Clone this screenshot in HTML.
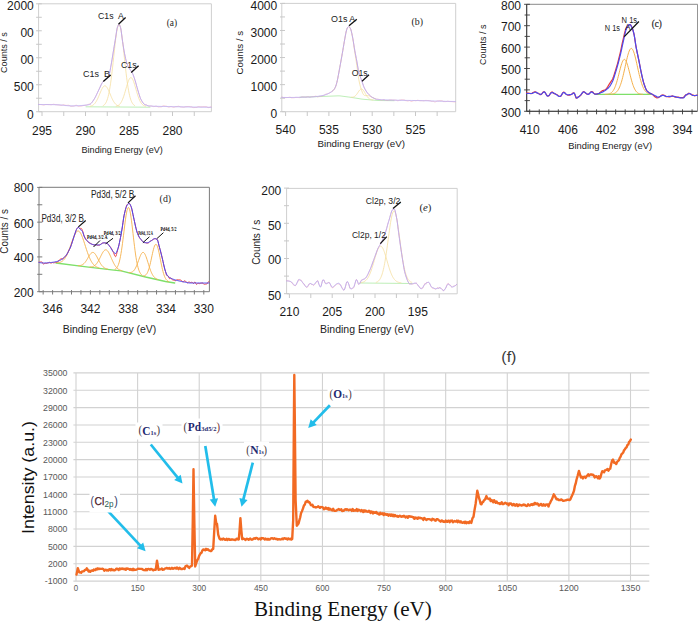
<!DOCTYPE html>
<html><head><meta charset="utf-8"><title>XPS spectra</title>
<style>
html,body{margin:0;padding:0;background:#fff;}
body{width:698px;height:621px;overflow:hidden;font-family:"Liberation Sans",sans-serif;}
svg{display:block;}
</style></head><body>
<svg width="698" height="621" viewBox="0 0 698 621">
<rect width="698" height="621" fill="#fff"/>
<path d="M38.6 3.8 H211.4 V111.7 H38.6 Z" fill="none" stroke="#cfcfcf" stroke-width="1"/>
<line x1="36.1" y1="3.8" x2="41.8" y2="3.8" stroke="#c8c8c8" stroke-width="1" />
<line x1="36.1" y1="17.29" x2="41.8" y2="17.29" stroke="#c8c8c8" stroke-width="1" />
<line x1="36.1" y1="30.78" x2="41.8" y2="30.78" stroke="#c8c8c8" stroke-width="1" />
<line x1="36.1" y1="44.27" x2="41.8" y2="44.27" stroke="#c8c8c8" stroke-width="1" />
<line x1="36.1" y1="57.76" x2="41.8" y2="57.76" stroke="#c8c8c8" stroke-width="1" />
<line x1="36.1" y1="71.25" x2="41.8" y2="71.25" stroke="#c8c8c8" stroke-width="1" />
<line x1="36.1" y1="84.74" x2="41.8" y2="84.74" stroke="#c8c8c8" stroke-width="1" />
<line x1="36.1" y1="98.23" x2="41.8" y2="98.23" stroke="#c8c8c8" stroke-width="1" />
<line x1="36.1" y1="111.72" x2="41.8" y2="111.72" stroke="#c8c8c8" stroke-width="1" />
<line x1="42" y1="111.7" x2="42" y2="116" stroke="#c8c8c8" stroke-width="1" />
<line x1="63.75" y1="111.7" x2="63.75" y2="116" stroke="#c8c8c8" stroke-width="1" />
<line x1="85.5" y1="111.7" x2="85.5" y2="116" stroke="#c8c8c8" stroke-width="1" />
<line x1="107.25" y1="111.7" x2="107.25" y2="116" stroke="#c8c8c8" stroke-width="1" />
<line x1="129" y1="111.7" x2="129" y2="116" stroke="#c8c8c8" stroke-width="1" />
<line x1="150.75" y1="111.7" x2="150.75" y2="116" stroke="#c8c8c8" stroke-width="1" />
<line x1="172.5" y1="111.7" x2="172.5" y2="116" stroke="#c8c8c8" stroke-width="1" />
<line x1="194.25" y1="111.7" x2="194.25" y2="116" stroke="#c8c8c8" stroke-width="1" />
<text x="33.8" y="9.7" font-size="12" font-family="Liberation Sans" fill="#1a1a1a" text-anchor="end">2000</text>
<text x="33.8" y="37.3" font-size="12" font-family="Liberation Sans" fill="#1a1a1a" text-anchor="end">00</text>
<text x="33.8" y="64.3" font-size="12" font-family="Liberation Sans" fill="#1a1a1a" text-anchor="end">00</text>
<text x="33.8" y="90.7" font-size="12" font-family="Liberation Sans" fill="#1a1a1a" text-anchor="end">500</text>
<text x="33.8" y="118.6" font-size="12" font-family="Liberation Sans" fill="#1a1a1a" text-anchor="end">0</text>
<text x="42" y="135" font-size="12" font-family="Liberation Sans" fill="#1a1a1a" text-anchor="middle">295</text>
<text x="85.5" y="135" font-size="12" font-family="Liberation Sans" fill="#1a1a1a" text-anchor="middle">290</text>
<text x="129" y="135" font-size="12" font-family="Liberation Sans" fill="#1a1a1a" text-anchor="middle">285</text>
<text x="172.5" y="135" font-size="12" font-family="Liberation Sans" fill="#1a1a1a" text-anchor="middle">280</text>
<text x="81.5" y="152.6" font-size="9" font-family="Liberation Sans" fill="#222" textLength="81.3" lengthAdjust="spacingAndGlyphs">Binding Energy (eV)</text>
<text x="7.4" y="52.6" font-size="9" font-family="Liberation Sans" fill="#222" text-anchor="middle" textLength="40.6" lengthAdjust="spacingAndGlyphs" transform="rotate(-90 7.4 52.6)">Counts / s</text>
<text x="166.7" y="26.3" font-size="9.4" font-family="Liberation Serif" fill="#1e1e1e" textLength="10.4" lengthAdjust="spacingAndGlyphs">(a)</text>
<path d="M86 106.8 L150 107.2" fill="none" stroke="#b7ecb0" stroke-width="0.9" stroke-linejoin="round" stroke-linecap="round" />
<path d="M90.1 106.24 L90.6 106.13 L91.1 105.99 L91.6 105.81 L92.1 105.59 L92.6 105.33 L93.1 105.02 L93.6 104.64 L94.1 104.19 L94.6 103.68 L95.1 103.08 L95.6 102.4 L96.1 101.63 L96.6 100.78 L97.1 99.85 L97.6 98.84 L98.1 97.75 L98.6 96.62 L99.1 95.43 L99.6 94.23 L100.1 93.02 L100.6 91.82 L101.1 90.67 L101.6 89.59 L102.1 88.61 L102.6 87.74 L103.1 87.01 L103.6 86.44 L104.1 86.04 L104.6 85.83 L105.1 85.82 L105.6 85.99 L106.1 86.35 L106.6 86.88 L107.1 87.58 L107.6 88.42 L108.1 89.39 L108.6 90.45 L109.1 91.59 L109.6 92.77 L110.1 93.98 L110.6 95.19 L111.1 96.38 L111.6 97.53 L112.1 98.62 L112.6 99.65 L113.1 100.6 L113.6 101.47 L114.1 102.25 L114.6 102.95 L115.1 103.56 L115.6 104.1 L116.1 104.55 L116.6 104.95 L117.1 105.27 L117.6 105.55 L118.1 105.77 L118.6 105.95 L119.1 106.1 L119.6 106.22" fill="none" stroke="#f5dea0" stroke-width="0.8" stroke-linejoin="round" stroke-linecap="round" />
<path d="M103.1 105.69 L103.6 105.4 L104.1 105.02 L104.6 104.55 L105.1 103.97 L105.6 103.24 L106.1 102.36 L106.6 101.29 L107.1 100.01 L107.6 98.49 L108.1 96.71 L108.6 94.64 L109.1 92.27 L109.6 89.59 L110.1 86.58 L110.6 83.25 L111.1 79.6 L111.6 75.66 L112.1 71.46 L112.6 67.05 L113.1 62.47 L113.6 57.8 L114.1 53.12 L114.6 48.5 L115.1 44.05 L115.6 39.85 L116.1 36 L116.6 32.59 L117.1 29.7 L117.6 27.41 L118.1 25.77 L118.6 24.83 L119.1 24.61 L119.6 25.12 L120.1 26.35 L120.6 28.25 L121.1 30.79 L121.6 33.9 L122.1 37.49 L122.6 41.49 L123.1 45.81 L123.6 50.33 L124.1 54.99 L124.6 59.68 L125.1 64.32 L125.6 68.84 L126.1 73.17 L126.6 77.27 L127.1 81.1 L127.6 84.62 L128.1 87.82 L128.6 90.7 L129.1 93.26 L129.6 95.5 L130.1 97.45 L130.6 99.13 L131.1 100.55 L131.6 101.74 L132.1 102.73 L132.6 103.55 L133.1 104.22 L133.6 104.75 L134.1 105.18 L134.6 105.52" fill="none" stroke="#f5dea0" stroke-width="0.8" stroke-linejoin="round" stroke-linecap="round" />
<path d="M116.1 106.24 L116.6 106.11 L117.1 105.96 L117.6 105.76 L118.1 105.51 L118.6 105.19 L119.1 104.81 L119.6 104.34 L120.1 103.79 L120.6 103.13 L121.1 102.35 L121.6 101.46 L122.1 100.44 L122.6 99.29 L123.1 98.01 L123.6 96.61 L124.1 95.1 L124.6 93.49 L125.1 91.8 L125.6 90.06 L126.1 88.31 L126.6 86.56 L127.1 84.87 L127.6 83.28 L128.1 81.81 L128.6 80.51 L129.1 79.42 L129.6 78.56 L130.1 77.97 L130.6 77.65 L131.1 77.62 L131.6 77.88 L132.1 78.42 L132.6 79.23 L133.1 80.28 L133.6 81.53 L134.1 82.97 L134.6 84.55 L135.1 86.22 L135.6 87.96 L136.1 89.71 L136.6 91.46 L137.1 93.16 L137.6 94.78 L138.1 96.32 L138.6 97.74 L139.1 99.04 L139.6 100.22 L140.1 101.26 L140.6 102.18 L141.1 102.98 L141.6 103.66 L142.1 104.24 L142.6 104.72 L143.1 105.12 L143.6 105.45 L144.1 105.71 L144.6 105.92 L145.1 106.09 L145.6 106.21" fill="none" stroke="#f5dea0" stroke-width="0.8" stroke-linejoin="round" stroke-linecap="round" />
<path d="M38.6 104.44 L39.1 104.46 L39.6 104.49 L40.1 104.53 L40.6 104.56 L41.1 104.58 L41.6 104.63 L42.1 104.74 L42.6 104.87 L43.1 104.98 L43.6 105.03 L44.1 104.98 L44.6 104.85 L45.1 104.69 L45.6 104.56 L46.1 104.51 L46.6 104.52 L47.1 104.54 L47.6 104.56 L48.1 104.58 L48.6 104.59 L49.1 104.61 L49.6 104.64 L50.1 104.67 L50.6 104.7 L51.1 104.72 L51.6 104.68 L52.1 104.57 L52.6 104.44 L53.1 104.33 L53.6 104.29 L54.1 104.34 L54.6 104.45 L55.1 104.58 L55.6 104.7 L56.1 104.75 L56.6 104.78 L57.1 104.84 L57.6 104.9 L58.1 104.95 L58.6 104.99 L59.1 105.03 L59.6 105.11 L60.1 105.19 L60.6 105.27 L61.1 105.34 L61.6 105.31 L62.1 105.16 L62.6 104.99 L63.1 104.85 L63.6 104.83 L64.1 104.93 L64.6 105.06 L65.1 105.19 L65.6 105.31 L66.1 105.37 L66.6 105.38 L67.1 105.35 L67.6 105.31 L68.1 105.28 L68.6 105.29 L69.1 105.41 L69.6 105.65 L70.1 105.93 L70.6 106.16 L71.1 106.26 L71.6 106.25 L72.1 106.22 L72.6 106.18 L73.1 106.14 L73.6 106.11 L74.1 106.02 L74.6 105.81 L75.1 105.56 L75.6 105.34 L76.1 105.24 L76.6 105.33 L77.1 105.59 L77.6 105.9 L78.1 106.16 L78.6 106.25 L79.1 106.22 L79.6 106.19 L80.1 106.15 L80.6 106.12 L81.1 106.08 L81.6 106.01 L82.1 105.88 L82.6 105.73 L83.1 105.6 L83.6 105.52 L84.1 105.47 L84.6 105.41 L85.1 105.34 L85.6 105.28 L86.1 105.23 L86.6 105.12 L87.1 104.92 L87.6 104.69 L88.1 104.47 L88.6 104.32 L89.1 104.2 L89.6 104.03 L90.1 104.16 L90.6 103.79 L91.1 103.31 L91.6 102.75 L92.1 102.13 L92.6 101.47 L93.1 100.76 L93.6 100.01 L94.1 99.24 L94.6 98.43 L95.1 97.52 L95.6 96.54 L96.1 95.51 L96.6 94.46 L97.1 93.39 L97.6 92.31 L98.1 91.25 L98.6 90.21 L99.1 89.19 L99.6 88.13 L100.1 87.03 L100.6 85.93 L101.1 84.86 L101.6 83.86 L102.1 82.95 L102.6 82.18 L103.1 81.54 L103.6 80.98 L104.1 80.49 L104.6 80.05 L105.1 79.63 L105.6 79.18 L106.1 78.74 L106.6 78.36 L107.1 77.98 L107.6 77.56 L108.1 77.03 L108.6 76.34 L109.1 75.19 L109.6 73.16 L110.1 70.59 L110.6 67.78 L111.1 65.07 L111.6 62.24 L112.1 59.2 L112.6 56.05 L113.1 52.93 L113.6 49.9 L114.1 46.9 L114.6 43.91 L115.1 40.92 L115.6 37.94 L116.1 34.63 L116.6 31.16 L117.1 28.31 L117.6 26.7 L118.1 25.53 L118.6 24.73 L119.1 24.52 L119.6 25.07 L120.1 26.16 L120.6 27.56 L121.1 30.24 L121.6 34.04 L122.1 38.12 L122.6 41.65 L123.1 44.87 L123.6 48.05 L124.1 51.05 L124.6 53.78 L125.1 56.18 L125.6 58.46 L126.1 60.57 L126.6 62.44 L127.1 64.01 L127.6 65.28 L128.1 66.35 L128.6 67.28 L129.1 68.14 L129.6 68.98 L130.1 69.75 L130.6 70.45 L131.1 71.14 L131.6 71.86 L132.1 72.67 L132.6 73.63 L133.1 74.78 L133.6 76.09 L134.1 77.52 L134.6 78.99 L135.1 80.53 L135.6 82.22 L136.1 84.02 L136.6 85.84 L137.1 87.62 L137.6 89.33 L138.1 90.95 L138.6 92.63 L139.1 94.32 L139.6 95.93 L140.1 97.38 L140.6 98.61 L141.1 99.59 L141.6 100.52 L142.1 101.4 L142.6 102.21 L143.1 102.93 L143.6 103.55 L144.1 104.03 L144.6 104.36 L145.1 104.58 L145.6 104.79 L146.1 104.59 L146.6 104.86 L147.1 105.23 L147.6 105.62 L148.1 105.95 L148.6 106.14 L149.1 106.18 L149.6 106.13 L150.1 106.04 L150.6 105.96 L151.1 105.95 L151.6 106.03 L152.1 106.19 L152.6 106.37 L153.1 106.53 L153.6 106.61 L154.1 106.57 L154.6 106.46 L155.1 106.31 L155.6 106.2 L156.1 106.16 L156.6 106.24 L157.1 106.43 L157.6 106.65 L158.1 106.83 L158.6 106.92 L159.1 106.92 L159.6 106.89 L160.1 106.87 L160.6 106.84 L161.1 106.84 L161.6 106.75 L162.1 106.5 L162.6 106.21 L163.1 105.97 L163.6 105.87 L164.1 105.91 L164.6 105.98 L165.1 106.06 L165.6 106.14 L166.1 106.17 L166.6 106.27 L167.1 106.49 L167.6 106.74 L168.1 106.96 L168.6 107.06 L169.1 107.02 L169.6 106.9 L170.1 106.75 L170.6 106.63 L171.1 106.59 L171.6 106.67 L172.1 106.83 L172.6 107.02 L173.1 107.19 L173.6 107.26 L174.1 107.2 L174.6 107.04 L175.1 106.84 L175.6 106.68 L176.1 106.62 L176.6 106.59 L177.1 106.5 L177.6 106.39 L178.1 106.31 L178.6 106.28 L179.1 106.36 L179.6 106.53 L180.1 106.74 L180.6 106.92 L181.1 107 L181.6 107.02 L182.1 107.08 L182.6 107.14 L183.1 107.19 L183.6 107.22 L184.1 107.17 L184.6 107.03 L185.1 106.85 L185.6 106.71 L186.1 106.66 L186.6 106.64 L187.1 106.6 L187.6 106.54 L188.1 106.5 L188.6 106.48 L189.1 106.52 L189.6 106.6 L190.1 106.7 L190.6 106.78 L191.1 106.82 L191.6 106.9 L192.1 107.1 L192.6 107.33 L193.1 107.53 L193.6 107.62 L194.1 107.6 L194.6 107.54 L195.1 107.48 L195.6 107.42 L196.1 107.41 L196.6 107.33 L197.1 107.15 L197.6 106.93 L198.1 106.75 L198.6 106.68 L199.1 106.7 L199.6 106.75 L200.1 106.8 L200.6 106.84 L201.1 106.87 L201.6 106.86 L202.1 106.82 L202.6 106.77 L203.1 106.74 L203.6 106.73 L204.1 106.73 L204.6 106.72 L205.1 106.71 L205.6 106.71 L206.1 106.71 L206.6 106.81 L207.1 107.03 L207.6 107.3 L208.1 107.53 L208.6 107.62 L209.1 107.55 L209.6 107.37 L210.1 107.16 L210.6 106.98 L211.1 106.91" fill="none" stroke="#f4aebf" stroke-width="0.75" stroke-linejoin="round" stroke-linecap="round" />
<path d="M38.6 104.5 L39.1 104.5 L39.6 104.5 L40.1 104.5 L40.6 104.5 L41.1 104.51 L41.6 104.51 L42.1 104.51 L42.6 104.52 L43.1 104.52 L43.6 104.52 L44.1 104.53 L44.6 104.53 L45.1 104.54 L45.6 104.54 L46.1 104.55 L46.6 104.56 L47.1 104.56 L47.6 104.57 L48.1 104.57 L48.6 104.58 L49.1 104.59 L49.6 104.59 L50.1 104.6 L50.6 104.61 L51.1 104.62 L51.6 104.63 L52.1 104.63 L52.6 104.64 L53.1 104.66 L53.6 104.67 L54.1 104.68 L54.6 104.69 L55.1 104.71 L55.6 104.72 L56.1 104.74 L56.6 104.76 L57.1 104.77 L57.6 104.79 L58.1 104.81 L58.6 104.83 L59.1 104.86 L59.6 104.88 L60.1 104.91 L60.6 104.94 L61.1 104.99 L61.6 105.04 L62.1 105.11 L62.6 105.18 L63.1 105.25 L63.6 105.32 L64.1 105.39 L64.6 105.46 L65.1 105.52 L65.6 105.57 L66.1 105.61 L66.6 105.64 L67.1 105.68 L67.6 105.71 L68.1 105.75 L68.6 105.78 L69.1 105.81 L69.6 105.83 L70.1 105.86 L70.6 105.88 L71.1 105.89 L71.6 105.9 L72.1 105.9 L72.6 105.9 L73.1 105.89 L73.6 105.88 L74.1 105.87 L74.6 105.85 L75.1 105.83 L75.6 105.81 L76.1 105.79 L76.6 105.76 L77.1 105.74 L77.6 105.72 L78.1 105.7 L78.6 105.67 L79.1 105.65 L79.6 105.62 L80.1 105.59 L80.6 105.56 L81.1 105.53 L81.6 105.49 L82.1 105.45 L82.6 105.42 L83.1 105.37 L83.6 105.33 L84.1 105.29 L84.6 105.24 L85.1 105.19 L85.6 105.14 L86.1 105.09 L86.6 105.03 L87.1 104.97 L87.6 104.91 L88.1 104.83 L88.6 104.73 L89.1 104.63 L89.6 104.5 L90.1 104.29 L90.6 103.93 L91.1 103.46 L91.6 102.88 L92.1 102.23 L92.6 101.51 L93.1 100.77 L93.6 100 L94.1 99.25 L94.6 98.47 L95.1 97.6 L95.6 96.65 L96.1 95.64 L96.6 94.59 L97.1 93.51 L97.6 92.42 L98.1 91.35 L98.6 90.3 L99.1 89.29 L99.6 88.21 L100.1 87.11 L100.6 86.01 L101.1 84.94 L101.6 83.94 L102.1 83.05 L102.6 82.3 L103.1 81.67 L103.6 81.12 L104.1 80.62 L104.6 80.15 L105.1 79.68 L105.6 79.2 L106.1 78.75 L106.6 78.37 L107.1 77.99 L107.6 77.57 L108.1 77.05 L108.6 76.36 L109.1 75.19 L109.6 73.14 L110.1 70.53 L110.6 67.69 L111.1 64.97 L111.6 62.15 L112.1 59.13 L112.6 56.01 L113.1 52.91 L113.6 49.9 L114.1 46.89 L114.6 43.89 L115.1 40.89 L115.6 37.9 L116.1 34.59 L116.6 31.12 L117.1 28.29 L117.6 26.69 L118.1 25.53 L118.6 24.73 L119.1 24.52 L119.6 25.05 L120.1 26.13 L120.6 27.52 L121.1 30.19 L121.6 34 L122.1 38.1 L122.6 41.64 L123.1 44.88 L123.6 48.06 L124.1 51.07 L124.6 53.81 L125.1 56.23 L125.6 58.52 L126.1 60.63 L126.6 62.49 L127.1 64 L127.6 65.2 L128.1 66.23 L128.6 67.13 L129.1 67.99 L129.6 68.84 L130.1 69.6 L130.6 70.3 L131.1 70.99 L131.6 71.72 L132.1 72.54 L132.6 73.51 L133.1 74.67 L133.6 75.99 L134.1 77.42 L134.6 78.9 L135.1 80.46 L135.6 82.16 L136.1 83.95 L136.6 85.79 L137.1 87.6 L137.6 89.34 L138.1 90.99 L138.6 92.69 L139.1 94.38 L139.6 96 L140.1 97.46 L140.6 98.69 L141.1 99.67 L141.6 100.6 L142.1 101.48 L142.6 102.28 L143.1 103 L143.6 103.61 L144.1 104.1 L144.6 104.45 L145.1 104.69 L145.6 104.91 L146.1 105.11 L146.6 105.29 L147.1 105.46 L147.6 105.6 L148.1 105.72 L148.6 105.82 L149.1 105.91 L149.6 105.97 L150.1 106.01 L150.6 106.04 L151.1 106.07 L151.6 106.1 L152.1 106.12 L152.6 106.15 L153.1 106.17 L153.6 106.19 L154.1 106.22 L154.6 106.24 L155.1 106.26 L155.6 106.27 L156.1 106.29 L156.6 106.31 L157.1 106.32 L157.6 106.34 L158.1 106.35 L158.6 106.37 L159.1 106.38 L159.6 106.39 L160.1 106.4 L160.6 106.41 L161.1 106.42 L161.6 106.44 L162.1 106.45 L162.6 106.45 L163.1 106.46 L163.6 106.47 L164.1 106.48 L164.6 106.49 L165.1 106.5 L165.6 106.51 L166.1 106.52 L166.6 106.53 L167.1 106.54 L167.6 106.55 L168.1 106.56 L168.6 106.57 L169.1 106.58 L169.6 106.59 L170.1 106.6 L170.6 106.61 L171.1 106.63 L171.6 106.64 L172.1 106.65 L172.6 106.66 L173.1 106.67 L173.6 106.68 L174.1 106.69 L174.6 106.71 L175.1 106.72 L175.6 106.73 L176.1 106.74 L176.6 106.75 L177.1 106.76 L177.6 106.77 L178.1 106.78 L178.6 106.79 L179.1 106.8 L179.6 106.81 L180.1 106.82 L180.6 106.83 L181.1 106.84 L181.6 106.85 L182.1 106.86 L182.6 106.87 L183.1 106.88 L183.6 106.89 L184.1 106.9 L184.6 106.91 L185.1 106.92 L185.6 106.92 L186.1 106.93 L186.6 106.94 L187.1 106.95 L187.6 106.96 L188.1 106.97 L188.6 106.98 L189.1 106.99 L189.6 106.99 L190.1 107 L190.6 107.01 L191.1 107.02 L191.6 107.03 L192.1 107.03 L192.6 107.04 L193.1 107.05 L193.6 107.06 L194.1 107.07 L194.6 107.07 L195.1 107.08 L195.6 107.09 L196.1 107.1 L196.6 107.1 L197.1 107.11 L197.6 107.12 L198.1 107.13 L198.6 107.13 L199.1 107.14 L199.6 107.15 L200.1 107.16 L200.6 107.16 L201.1 107.17 L201.6 107.18 L202.1 107.18 L202.6 107.19 L203.1 107.2 L203.6 107.2 L204.1 107.21 L204.6 107.22 L205.1 107.22 L205.6 107.23 L206.1 107.24 L206.6 107.24 L207.1 107.25 L207.6 107.26 L208.1 107.26 L208.6 107.27 L209.1 107.27 L209.6 107.28 L210.1 107.29 L210.6 107.29 L211.1 107.3" fill="none" stroke="#aea8f5" stroke-width="0.75" stroke-linejoin="round" stroke-linecap="round" />
<line x1="118.5" y1="24.2" x2="125.6" y2="17.6" stroke="#111" stroke-width="1.3" />
<line x1="103.3" y1="81.5" x2="110.7" y2="75" stroke="#111" stroke-width="1.3" />
<line x1="131.2" y1="72.6" x2="138.6" y2="65.7" stroke="#111" stroke-width="1.3" />
<text x="98" y="19.4" font-size="9" font-family="Liberation Sans" fill="#222" textLength="25.7" lengthAdjust="spacingAndGlyphs">C1s&#160; A</text>
<text x="83" y="77" font-size="9" font-family="Liberation Sans" fill="#222" textLength="27" lengthAdjust="spacingAndGlyphs">C1s&#160; B</text>
<text x="121" y="67.6" font-size="9" font-family="Liberation Sans" fill="#222" textLength="15.7" lengthAdjust="spacingAndGlyphs">C1s</text>
<path d="M281.8 3.4 H455.7 V111.7 H281.8 Z" fill="none" stroke="#cfcfcf" stroke-width="1"/>
<line x1="280" y1="3.4" x2="285" y2="3.4" stroke="#c8c8c8" stroke-width="1" />
<line x1="280" y1="16.94" x2="285" y2="16.94" stroke="#c8c8c8" stroke-width="1" />
<line x1="280" y1="30.48" x2="285" y2="30.48" stroke="#c8c8c8" stroke-width="1" />
<line x1="280" y1="44.02" x2="285" y2="44.02" stroke="#c8c8c8" stroke-width="1" />
<line x1="280" y1="57.56" x2="285" y2="57.56" stroke="#c8c8c8" stroke-width="1" />
<line x1="280" y1="71.1" x2="285" y2="71.1" stroke="#c8c8c8" stroke-width="1" />
<line x1="280" y1="84.64" x2="285" y2="84.64" stroke="#c8c8c8" stroke-width="1" />
<line x1="280" y1="98.18" x2="285" y2="98.18" stroke="#c8c8c8" stroke-width="1" />
<line x1="280" y1="111.72" x2="285" y2="111.72" stroke="#c8c8c8" stroke-width="1" />
<line x1="285.6" y1="111.7" x2="285.6" y2="116" stroke="#c8c8c8" stroke-width="1" />
<line x1="307.25" y1="111.7" x2="307.25" y2="116" stroke="#c8c8c8" stroke-width="1" />
<line x1="328.9" y1="111.7" x2="328.9" y2="116" stroke="#c8c8c8" stroke-width="1" />
<line x1="350.55" y1="111.7" x2="350.55" y2="116" stroke="#c8c8c8" stroke-width="1" />
<line x1="372.2" y1="111.7" x2="372.2" y2="116" stroke="#c8c8c8" stroke-width="1" />
<line x1="393.85" y1="111.7" x2="393.85" y2="116" stroke="#c8c8c8" stroke-width="1" />
<line x1="415.5" y1="111.7" x2="415.5" y2="116" stroke="#c8c8c8" stroke-width="1" />
<line x1="437.15" y1="111.7" x2="437.15" y2="116" stroke="#c8c8c8" stroke-width="1" />
<text x="277.2" y="9.7" font-size="12" font-family="Liberation Sans" fill="#1a1a1a" text-anchor="end">4000</text>
<text x="277.2" y="36.7" font-size="12" font-family="Liberation Sans" fill="#1a1a1a" text-anchor="end">3000</text>
<text x="277.2" y="63.7" font-size="12" font-family="Liberation Sans" fill="#1a1a1a" text-anchor="end">2000</text>
<text x="277.2" y="90.7" font-size="12" font-family="Liberation Sans" fill="#1a1a1a" text-anchor="end">1000</text>
<text x="277.2" y="118.2" font-size="12" font-family="Liberation Sans" fill="#1a1a1a" text-anchor="end">0</text>
<text x="285.6" y="134.1" font-size="12" font-family="Liberation Sans" fill="#1a1a1a" text-anchor="middle">540</text>
<text x="328.9" y="134.1" font-size="12" font-family="Liberation Sans" fill="#1a1a1a" text-anchor="middle">535</text>
<text x="372.2" y="134.1" font-size="12" font-family="Liberation Sans" fill="#1a1a1a" text-anchor="middle">530</text>
<text x="415.5" y="134.1" font-size="12" font-family="Liberation Sans" fill="#1a1a1a" text-anchor="middle">525</text>
<text x="317.5" y="147.2" font-size="9.7" font-family="Liberation Sans" fill="#222" textLength="87.4" lengthAdjust="spacingAndGlyphs">Binding Energy (eV)</text>
<text x="242.6" y="52.7" font-size="9.5" font-family="Liberation Sans" fill="#222" text-anchor="middle" textLength="43.4" lengthAdjust="spacingAndGlyphs" transform="rotate(-90 242.6 52.7)">Counts / s</text>
<text x="411.5" y="24.5" font-size="9.4" font-family="Liberation Serif" fill="#1e1e1e" textLength="11.5" lengthAdjust="spacingAndGlyphs">(b)</text>
<path d="M300 97.2 L302 97.14 L304 97.07 L306 97.01 L308 96.94 L310 96.88 L312 96.81 L314 96.75 L316 96.69 L318 96.62 L320 96.55 L322 96.47 L324 96.39 L326 96.32 L328 96.24 L330 96.16 L332 96.08 L334 96.01 L336 95.93 L338 95.85 L340 95.89 L342 96.15 L344 96.41 L346 96.68 L348 96.94 L350 97.2 L352 97.52 L354 97.84 L356 98.16 L358 98.48 L360 98.8 L362 99.12 L364 99.33 L366 99.49 L368 99.66 L370 99.83 L372 100 L374 100.16 L376 100.33 L378 100.5 L380 100.52 L382 100.55 L384 100.57 L386 100.59 L388 100.62 L390 100.64 L392 100.66 L394 100.69" fill="none" stroke="#b7ecb0" stroke-width="0.9" stroke-linejoin="round" stroke-linecap="round" />
<path d="M332.3 91.2 L332.8 90.77 L333.3 90.28 L333.8 89.72 L334.3 89.06 L334.8 88.26 L335.3 87.28 L335.8 86.09 L336.3 84.53 L336.8 82.69 L337.3 80.61 L337.8 78.22 L338.3 75.6 L338.8 72.85 L339.3 70.08 L339.8 67.36 L340.3 64.66 L340.8 61.92 L341.3 59.14 L341.8 56.32 L342.3 53.47 L342.8 50.56 L343.3 47.54 L343.8 44.52 L344.3 41.61 L344.8 38.82 L345.3 35.98 L345.8 33.3 L346.3 31.03 L346.8 29.31 L347.3 27.93 L347.8 27.17 L348.3 26.71 L348.8 26.65 L349.3 26.97 L349.8 27.46 L350.3 28.32 L350.8 29.53 L351.3 31.31 L351.8 33.58 L352.3 36.13 L352.8 38.82 L353.3 41.92 L353.8 45.4 L354.3 48.97 L354.8 52.34 L355.3 55.52 L355.8 58.66 L356.3 61.87 L356.8 65.21 L357.3 68.86 L357.8 72.7 L358.3 76.36 L358.8 79.49 L359.3 82.05 L359.8 84.27 L360.3 86.2 L360.8 87.9 L361.3 89.43 L361.8 90.86 L362.3 92.19 L362.8 93.35 L363.3 94.29 L363.8 94.97 L364.3 95.35 L364.8 95.5 L365.3 95.57 L365.8 95.58 L366.3 95.56 L366.8 95.55 L367.3 95.56 L367.8 95.59 L368.3 95.66 L368.8 95.77 L369.3 95.94 L369.8 96.15 L370.3 96.39 L370.8 96.64 L371.3 96.91 L371.8 97.17 L372.3 97.41 L372.8 97.64 L373.3 97.87 L373.8 98.11 L374.3 98.34 L374.8 98.56 L375.3 98.77 L375.8 98.96" fill="none" stroke="#f5dea0" stroke-width="0.8" stroke-linejoin="round" stroke-linecap="round" />
<path d="M351.3 97.24 L351.8 97.24 L352.3 97.21 L352.8 97.14 L353.3 97.03 L353.8 96.85 L354.3 96.61 L354.8 96.29 L355.3 95.89 L355.8 95.4 L356.3 94.82 L356.8 94.18 L357.3 93.47 L357.8 92.72 L358.3 91.96 L358.8 91.22 L359.3 90.53 L359.8 89.94 L360.3 89.48 L360.8 89.17 L361.3 89.04 L361.8 89.1 L362.3 89.36 L362.8 89.77 L363.3 90.32 L363.8 91.01 L364.3 91.8 L364.8 92.66 L365.3 93.54 L365.8 94.41 L366.3 95.25 L366.8 96.04 L367.3 96.75 L367.8 97.38 L368.3 97.92 L368.8 98.38 L369.3 98.76 L369.8 99.07 L370.3 99.31 L370.8 99.51 L371.3 99.67 L371.8 99.8 L372.3 99.9 L372.8 99.98" fill="none" stroke="#f5dea0" stroke-width="0.8" stroke-linejoin="round" stroke-linecap="round" />
<path d="M281.8 97.06 L282.3 97.16 L282.8 97.36 L283.3 97.55 L283.8 97.64 L284.3 97.64 L284.8 97.63 L285.3 97.62 L285.8 97.62 L286.3 97.6 L286.8 97.55 L287.3 97.5 L287.8 97.48 L288.3 97.44 L288.8 97.35 L289.3 97.25 L289.8 97.21 L290.3 97.29 L290.8 97.49 L291.3 97.68 L291.8 97.76 L292.3 97.76 L292.8 97.75 L293.3 97.75 L293.8 97.74 L294.3 97.69 L294.8 97.57 L295.3 97.46 L295.8 97.41 L296.3 97.4 L296.8 97.39 L297.3 97.41 L297.8 97.46 L298.3 97.52 L298.8 97.57 L299.3 97.62 L299.8 97.65 L300.3 97.59 L300.8 97.38 L301.3 97.12 L301.8 96.91 L302.3 96.84 L302.8 96.89 L303.3 96.98 L303.8 97.01 L304.3 97.04 L304.8 97.1 L305.3 97.16 L305.8 97.19 L306.3 97.1 L306.8 96.91 L307.3 96.73 L307.8 96.64 L308.3 96.74 L308.8 96.98 L309.3 97.22 L309.8 97.33 L310.3 97.23 L310.8 97.02 L311.3 96.81 L311.8 96.7 L312.3 96.67 L312.8 96.63 L313.3 96.59 L313.8 96.55 L314.3 96.47 L314.8 96.36 L315.3 96.24 L315.8 96.16 L316.3 96.24 L316.8 96.5 L317.3 96.76 L317.8 96.83 L318.3 96.72 L318.8 96.55 L319.3 96.39 L319.8 96.27 L320.3 96.21 L320.8 96.18 L321.3 96.14 L321.8 96.07 L322.3 95.93 L322.8 95.73 L323.3 95.53 L323.8 95.37 L324.3 95.14 L324.8 94.8 L325.3 94.44 L325.8 94.18 L326.3 94.05 L326.8 93.96 L327.3 93.86 L327.8 93.68 L328.3 93.46 L328.8 93.25 L329.3 93.03 L329.8 92.77 L330.3 92.47 L330.8 92.16 L331.3 91.84 L331.8 91.5 L332.3 91.15 L332.8 90.78 L333.3 90.35 L333.8 89.81 L334.3 89.13 L334.8 88.29 L335.3 87.27 L335.8 86.06 L336.3 84.5 L336.8 82.64 L337.3 80.55 L337.8 78.15 L338.3 75.55 L338.8 72.85 L339.3 70.12 L339.8 67.43 L340.3 64.7 L340.8 61.91 L341.3 59.08 L341.8 56.24 L342.3 53.42 L342.8 50.56 L343.3 47.6 L343.8 44.61 L344.3 41.68 L344.8 38.86 L345.3 35.99 L345.8 33.29 L346.3 31.03 L346.8 29.31 L347.3 27.93 L347.8 27.17 L348.3 26.7 L348.8 26.62 L349.3 26.92 L349.8 27.38 L350.3 28.22 L350.8 29.4 L351.3 31.14 L351.8 33.33 L352.3 35.77 L352.8 38.28 L353.3 41.17 L353.8 44.38 L354.3 47.63 L354.8 50.58 L355.3 53.27 L355.8 55.84 L356.3 58.42 L356.8 61.09 L357.3 64.01 L357.8 67.04 L358.3 69.84 L358.8 72.11 L359.3 73.86 L359.8 75.39 L360.3 76.8 L360.8 78.15 L361.3 79.51 L361.8 80.93 L362.3 82.42 L362.8 83.89 L363.3 85.31 L363.8 86.62 L364.3 87.77 L364.8 88.79 L365.3 89.74 L365.8 90.61 L366.3 91.39 L366.8 92.11 L367.3 92.78 L367.8 93.4 L368.3 93.97 L368.8 94.49 L369.3 94.98 L369.8 95.45 L370.3 95.9 L370.8 96.31 L371.3 96.7 L371.8 97.04 L372.3 97.52 L372.8 97.73 L373.3 97.93 L373.8 98.16 L374.3 98.42 L374.8 98.71 L375.3 98.97 L375.8 99.19 L376.3 99.27 L376.8 99.2 L377.3 99.11 L377.8 99.1 L378.3 99.21 L378.8 99.38 L379.3 99.54 L379.8 99.63 L380.3 99.72 L380.8 99.87 L381.3 100.02 L381.8 100.1 L382.3 100.02 L382.8 99.83 L383.3 99.63 L383.8 99.56 L384.3 99.69 L384.8 99.95 L385.3 100.22 L385.8 100.35 L386.3 100.37 L386.8 100.37 L387.3 100.38 L387.8 100.39 L388.3 100.33 L388.8 100.18 L389.3 100.03 L389.8 99.97 L390.3 99.98 L390.8 99.98 L391.3 99.98 L391.8 99.98 L392.3 100.01 L392.8 100.05 L393.3 100.09 L393.8 100.12 L394.3 100.12 L394.8 100.11 L395.3 100.1 L395.8 100.1 L396.3 100.21 L396.8 100.43 L397.3 100.65 L397.8 100.75 L398.3 100.67 L398.8 100.47 L399.3 100.27 L399.8 100.18 L400.3 100.14 L400.8 100.02 L401.3 99.91 L401.8 99.86 L402.3 99.88 L402.8 99.91 L403.3 99.94 L403.8 99.96 L404.3 100.06 L404.8 100.29 L405.3 100.51 L405.8 100.61 L406.3 100.66 L406.8 100.76 L407.3 100.86 L407.8 100.91 L408.3 100.85 L408.8 100.7 L409.3 100.59 L409.8 100.65 L410.3 100.89 L410.8 101.16 L411.3 101.34 L411.8 101.32 L412.3 101.13 L412.8 100.89 L413.3 100.71 L413.8 100.61 L414.3 100.6 L414.8 100.67 L415.3 100.74 L415.8 100.78 L416.3 100.7 L416.8 100.53 L417.3 100.36 L417.8 100.28 L418.3 100.35 L418.8 100.49 L419.3 100.63 L419.8 100.7 L420.3 100.71 L420.8 100.7 L421.3 100.69 L421.8 100.7 L422.3 100.72 L422.8 100.76 L423.3 100.79 L423.8 100.82 L424.3 100.76 L424.8 100.62 L425.3 100.49 L425.8 100.43 L426.3 100.45 L426.8 100.46 L427.3 100.47 L427.8 100.49 L428.3 100.53 L428.8 100.61 L429.3 100.69 L429.8 100.73 L430.3 100.84 L430.8 101.06 L431.3 101.28 L431.8 101.39 L432.3 101.36 L432.8 101.27 L433.3 101.28 L433.8 101.47 L434.3 101.75 L434.8 101.92 L435.3 101.88 L435.8 101.67 L436.3 101.4 L436.8 101.17 L437.3 101.01 L437.8 100.96 L438.3 100.93 L438.8 100.88 L439.3 100.82 L439.8 100.8 L440.3 100.8 L440.8 100.8 L441.3 100.8 L441.8 100.81 L442.3 100.93 L442.8 101.2 L443.3 101.47 L443.8 101.6 L444.3 101.6 L444.8 101.6 L445.3 101.6 L445.8 101.6 L446.3 101.55 L446.8 101.42 L447.3 101.29 L447.8 101.24 L448.3 101.3 L448.8 101.41 L449.3 101.53 L449.8 101.59 L450.3 101.6 L450.8 101.6 L451.3 101.61 L451.8 101.61 L452.3 101.66 L452.8 101.74 L453.3 101.83 L453.8 101.87 L454.3 101.89 L454.8 101.92 L455.3 101.94" fill="none" stroke="#f4aebf" stroke-width="0.75" stroke-linejoin="round" stroke-linecap="round" />
<path d="M281.8 97.4 L282.3 97.41 L282.8 97.43 L283.3 97.44 L283.8 97.45 L284.3 97.46 L284.8 97.47 L285.3 97.48 L285.8 97.49 L286.3 97.49 L286.8 97.5 L287.3 97.5 L287.8 97.5 L288.3 97.5 L288.8 97.5 L289.3 97.5 L289.8 97.49 L290.3 97.49 L290.8 97.48 L291.3 97.48 L291.8 97.47 L292.3 97.46 L292.8 97.45 L293.3 97.44 L293.8 97.43 L294.3 97.42 L294.8 97.41 L295.3 97.4 L295.8 97.39 L296.3 97.38 L296.8 97.36 L297.3 97.34 L297.8 97.31 L298.3 97.29 L298.8 97.27 L299.3 97.25 L299.8 97.23 L300.3 97.21 L300.8 97.2 L301.3 97.18 L301.8 97.17 L302.3 97.16 L302.8 97.15 L303.3 97.15 L303.8 97.14 L304.3 97.13 L304.8 97.12 L305.3 97.11 L305.8 97.1 L306.3 97.09 L306.8 97.09 L307.3 97.08 L307.8 97.07 L308.3 97.06 L308.8 97.05 L309.3 97.04 L309.8 97.03 L310.3 97.02 L310.8 97.01 L311.3 96.99 L311.8 96.96 L312.3 96.93 L312.8 96.9 L313.3 96.86 L313.8 96.81 L314.3 96.77 L314.8 96.72 L315.3 96.67 L315.8 96.61 L316.3 96.55 L316.8 96.48 L317.3 96.41 L317.8 96.34 L318.3 96.26 L318.8 96.18 L319.3 96.11 L319.8 96.03 L320.3 95.95 L320.8 95.87 L321.3 95.78 L321.8 95.69 L322.3 95.59 L322.8 95.49 L323.3 95.38 L323.8 95.25 L324.3 95.12 L324.8 94.97 L325.3 94.81 L325.8 94.65 L326.3 94.47 L326.8 94.28 L327.3 94.08 L327.8 93.85 L328.3 93.6 L328.8 93.33 L329.3 93.06 L329.8 92.77 L330.3 92.49 L330.8 92.2 L331.3 91.9 L331.8 91.57 L332.3 91.2 L332.8 90.77 L333.3 90.28 L333.8 89.72 L334.3 89.06 L334.8 88.26 L335.3 87.28 L335.8 86.09 L336.3 84.53 L336.8 82.69 L337.3 80.61 L337.8 78.22 L338.3 75.6 L338.8 72.85 L339.3 70.08 L339.8 67.36 L340.3 64.66 L340.8 61.92 L341.3 59.14 L341.8 56.32 L342.3 53.47 L342.8 50.56 L343.3 47.54 L343.8 44.52 L344.3 41.61 L344.8 38.82 L345.3 35.98 L345.8 33.3 L346.3 31.03 L346.8 29.31 L347.3 27.92 L347.8 27.16 L348.3 26.7 L348.8 26.63 L349.3 26.94 L349.8 27.42 L350.3 28.25 L350.8 29.42 L351.3 31.14 L351.8 33.33 L352.3 35.78 L352.8 38.32 L353.3 41.22 L353.8 44.45 L354.3 47.69 L354.8 50.66 L355.3 53.36 L355.8 55.93 L356.3 58.48 L356.8 61.1 L357.3 63.96 L357.8 66.97 L358.3 69.79 L358.8 72.1 L359.3 73.89 L359.8 75.44 L360.3 76.83 L360.8 78.15 L361.3 79.47 L361.8 80.88 L362.3 82.38 L362.8 83.89 L363.3 85.35 L363.8 86.68 L364.3 87.8 L364.8 88.77 L365.3 89.67 L365.8 90.52 L366.3 91.3 L366.8 92.03 L367.3 92.7 L367.8 93.32 L368.3 93.89 L368.8 94.42 L369.3 94.92 L369.8 95.4 L370.3 95.85 L370.8 96.26 L371.3 96.64 L371.8 96.99 L372.3 97.29 L372.8 97.56 L373.3 97.82 L373.8 98.08 L374.3 98.32 L374.8 98.55 L375.3 98.77 L375.8 98.96 L376.3 99.13 L376.8 99.28 L377.3 99.39 L377.8 99.48 L378.3 99.53 L378.8 99.58 L379.3 99.62 L379.8 99.65 L380.3 99.69 L380.8 99.72 L381.3 99.75 L381.8 99.77 L382.3 99.79 L382.8 99.82 L383.3 99.84 L383.8 99.85 L384.3 99.87 L384.8 99.89 L385.3 99.91 L385.8 99.93 L386.3 99.95 L386.8 99.97 L387.3 99.98 L387.8 100 L388.3 100.01 L388.8 100.03 L389.3 100.05 L389.8 100.06 L390.3 100.08 L390.8 100.09 L391.3 100.1 L391.8 100.12 L392.3 100.13 L392.8 100.14 L393.3 100.15 L393.8 100.17 L394.3 100.18 L394.8 100.19 L395.3 100.2 L395.8 100.21 L396.3 100.22 L396.8 100.24 L397.3 100.25 L397.8 100.26 L398.3 100.27 L398.8 100.28 L399.3 100.29 L399.8 100.3 L400.3 100.31 L400.8 100.32 L401.3 100.32 L401.8 100.33 L402.3 100.34 L402.8 100.35 L403.3 100.36 L403.8 100.37 L404.3 100.37 L404.8 100.38 L405.3 100.39 L405.8 100.39 L406.3 100.4 L406.8 100.41 L407.3 100.41 L407.8 100.42 L408.3 100.43 L408.8 100.43 L409.3 100.44 L409.8 100.45 L410.3 100.45 L410.8 100.46 L411.3 100.47 L411.8 100.47 L412.3 100.48 L412.8 100.48 L413.3 100.49 L413.8 100.5 L414.3 100.51 L414.8 100.51 L415.3 100.52 L415.8 100.53 L416.3 100.53 L416.8 100.54 L417.3 100.55 L417.8 100.56 L418.3 100.57 L418.8 100.58 L419.3 100.59 L419.8 100.6 L420.3 100.61 L420.8 100.62 L421.3 100.63 L421.8 100.64 L422.3 100.65 L422.8 100.67 L423.3 100.68 L423.8 100.69 L424.3 100.71 L424.8 100.72 L425.3 100.74 L425.8 100.75 L426.3 100.77 L426.8 100.78 L427.3 100.8 L427.8 100.82 L428.3 100.83 L428.8 100.85 L429.3 100.87 L429.8 100.89 L430.3 100.9 L430.8 100.92 L431.3 100.94 L431.8 100.95 L432.3 100.97 L432.8 100.99 L433.3 101 L433.8 101.02 L434.3 101.04 L434.8 101.05 L435.3 101.07 L435.8 101.09 L436.3 101.1 L436.8 101.12 L437.3 101.13 L437.8 101.14 L438.3 101.16 L438.8 101.17 L439.3 101.18 L439.8 101.2 L440.3 101.21 L440.8 101.22 L441.3 101.23 L441.8 101.24 L442.3 101.25 L442.8 101.26 L443.3 101.27 L443.8 101.28 L444.3 101.3 L444.8 101.31 L445.3 101.32 L445.8 101.33 L446.3 101.34 L446.8 101.35 L447.3 101.36 L447.8 101.37 L448.3 101.38 L448.8 101.39 L449.3 101.39 L449.8 101.4 L450.3 101.41 L450.8 101.42 L451.3 101.43 L451.8 101.44 L452.3 101.45 L452.8 101.46 L453.3 101.46 L453.8 101.47 L454.3 101.48 L454.8 101.49 L455.3 101.49" fill="none" stroke="#aea8f5" stroke-width="0.75" stroke-linejoin="round" stroke-linecap="round" />
<line x1="349" y1="25.8" x2="356.8" y2="19.3" stroke="#111" stroke-width="1.3" />
<line x1="362" y1="81.2" x2="369" y2="74.8" stroke="#111" stroke-width="1.3" />
<text x="331" y="22" font-size="8.9" font-family="Liberation Sans" fill="#222" textLength="24.3" lengthAdjust="spacingAndGlyphs">O1s A</text>
<text x="351.7" y="76" font-size="8.9" font-family="Liberation Sans" fill="#222" textLength="16" lengthAdjust="spacingAndGlyphs">O1s</text>
<path d="M526.7 4.3 H697.6 V111.3 H526.7 Z" fill="none" stroke="#8a8a8a" stroke-width="1"/>
<line x1="526.7" y1="4.3" x2="526.7" y2="111.3" stroke="#3a3a3a" stroke-width="1" />
<line x1="526.7" y1="111.3" x2="697.3" y2="111.3" stroke="#3a3a3a" stroke-width="1" />
<line x1="524.1" y1="4.3" x2="529.9" y2="4.3" stroke="#3a3a3a" stroke-width="0.9" />
<line x1="524.6" y1="15" x2="529.9" y2="15" stroke="#3a3a3a" stroke-width="0.9" />
<line x1="524.1" y1="25.7" x2="529.9" y2="25.7" stroke="#3a3a3a" stroke-width="0.9" />
<line x1="524.6" y1="36.4" x2="529.9" y2="36.4" stroke="#3a3a3a" stroke-width="0.9" />
<line x1="524.1" y1="47.1" x2="529.9" y2="47.1" stroke="#3a3a3a" stroke-width="0.9" />
<line x1="524.6" y1="57.8" x2="529.9" y2="57.8" stroke="#3a3a3a" stroke-width="0.9" />
<line x1="524.1" y1="68.5" x2="529.9" y2="68.5" stroke="#3a3a3a" stroke-width="0.9" />
<line x1="524.6" y1="79.2" x2="529.9" y2="79.2" stroke="#3a3a3a" stroke-width="0.9" />
<line x1="524.1" y1="89.9" x2="529.9" y2="89.9" stroke="#3a3a3a" stroke-width="0.9" />
<line x1="524.6" y1="100.6" x2="529.9" y2="100.6" stroke="#3a3a3a" stroke-width="0.9" />
<line x1="524.1" y1="111.3" x2="529.9" y2="111.3" stroke="#3a3a3a" stroke-width="0.9" />
<line x1="529.7" y1="109.3" x2="529.7" y2="114.3" stroke="#3a3a3a" stroke-width="0.9" />
<line x1="539.25" y1="109.3" x2="539.25" y2="114.3" stroke="#3a3a3a" stroke-width="0.9" />
<line x1="548.8" y1="109.3" x2="548.8" y2="114.3" stroke="#3a3a3a" stroke-width="0.9" />
<line x1="558.35" y1="109.3" x2="558.35" y2="114.3" stroke="#3a3a3a" stroke-width="0.9" />
<line x1="567.9" y1="109.3" x2="567.9" y2="114.3" stroke="#3a3a3a" stroke-width="0.9" />
<line x1="577.45" y1="109.3" x2="577.45" y2="114.3" stroke="#3a3a3a" stroke-width="0.9" />
<line x1="587" y1="109.3" x2="587" y2="114.3" stroke="#3a3a3a" stroke-width="0.9" />
<line x1="596.55" y1="109.3" x2="596.55" y2="114.3" stroke="#3a3a3a" stroke-width="0.9" />
<line x1="606.1" y1="109.3" x2="606.1" y2="114.3" stroke="#3a3a3a" stroke-width="0.9" />
<line x1="615.65" y1="109.3" x2="615.65" y2="114.3" stroke="#3a3a3a" stroke-width="0.9" />
<line x1="625.2" y1="109.3" x2="625.2" y2="114.3" stroke="#3a3a3a" stroke-width="0.9" />
<line x1="634.75" y1="109.3" x2="634.75" y2="114.3" stroke="#3a3a3a" stroke-width="0.9" />
<line x1="644.3" y1="109.3" x2="644.3" y2="114.3" stroke="#3a3a3a" stroke-width="0.9" />
<line x1="653.85" y1="109.3" x2="653.85" y2="114.3" stroke="#3a3a3a" stroke-width="0.9" />
<line x1="663.4" y1="109.3" x2="663.4" y2="114.3" stroke="#3a3a3a" stroke-width="0.9" />
<line x1="672.95" y1="109.3" x2="672.95" y2="114.3" stroke="#3a3a3a" stroke-width="0.9" />
<line x1="682.5" y1="109.3" x2="682.5" y2="114.3" stroke="#3a3a3a" stroke-width="0.9" />
<line x1="692.05" y1="109.3" x2="692.05" y2="114.3" stroke="#3a3a3a" stroke-width="0.9" />
<text x="521" y="10" font-size="12" font-family="Liberation Sans" fill="#1a1a1a" text-anchor="end">800</text>
<text x="521" y="31.3" font-size="12" font-family="Liberation Sans" fill="#1a1a1a" text-anchor="end">700</text>
<text x="521" y="52.6" font-size="12" font-family="Liberation Sans" fill="#1a1a1a" text-anchor="end">600</text>
<text x="521" y="73.9" font-size="12" font-family="Liberation Sans" fill="#1a1a1a" text-anchor="end">500</text>
<text x="521" y="95.4" font-size="12" font-family="Liberation Sans" fill="#1a1a1a" text-anchor="end">400</text>
<text x="521" y="116.8" font-size="12" font-family="Liberation Sans" fill="#1a1a1a" text-anchor="end">300</text>
<text x="529.7" y="133.8" font-size="12" font-family="Liberation Sans" fill="#1a1a1a" text-anchor="middle">410</text>
<text x="567.9" y="133.8" font-size="12" font-family="Liberation Sans" fill="#1a1a1a" text-anchor="middle">406</text>
<text x="606.1" y="133.8" font-size="12" font-family="Liberation Sans" fill="#1a1a1a" text-anchor="middle">402</text>
<text x="644.3" y="133.8" font-size="12" font-family="Liberation Sans" fill="#1a1a1a" text-anchor="middle">398</text>
<text x="682.5" y="133.8" font-size="12" font-family="Liberation Sans" fill="#1a1a1a" text-anchor="middle">394</text>
<text x="568.3" y="149" font-size="9.35" font-family="Liberation Sans" fill="#222" textLength="83.7" lengthAdjust="spacingAndGlyphs">Binding Energy (eV)</text>
<text x="485.6" y="44.75" font-size="9.2" font-family="Liberation Sans" fill="#222" text-anchor="middle" textLength="40.3" lengthAdjust="spacingAndGlyphs" transform="rotate(-90 485.6 44.75)">Counts / s</text>
<text x="651.7" y="27" font-size="9.4" font-family="Liberation Serif" fill="#1e1e1e" textLength="10" lengthAdjust="spacingAndGlyphs" stroke="#1e1e1e" stroke-width="0.2">(c)</text>
<path d="M595 94.4 L651 94.4" fill="none" stroke="#7ee06a" stroke-width="1.2" stroke-linejoin="round" stroke-linecap="round" />
<path d="M605.2 94.35 L605.7 94.33 L606.2 94.3 L606.7 94.27 L607.2 94.22 L607.7 94.16 L608.2 94.07 L608.7 93.96 L609.2 93.83 L609.7 93.65 L610.2 93.43 L610.7 93.16 L611.2 92.83 L611.7 92.42 L612.2 91.93 L612.7 91.34 L613.2 90.65 L613.7 89.84 L614.2 88.91 L614.7 87.84 L615.2 86.64 L615.7 85.3 L616.2 83.83 L616.7 82.22 L617.2 80.49 L617.7 78.66 L618.2 76.74 L618.7 74.77 L619.2 72.77 L619.7 70.78 L620.2 68.83 L620.7 66.97 L621.2 65.23 L621.7 63.66 L622.2 62.29 L622.7 61.15 L623.2 60.29 L623.7 59.7 L624.2 59.42 L624.7 59.46 L625.2 59.8 L625.7 60.44 L626.2 61.36 L626.7 62.55 L627.2 63.96 L627.7 65.57 L628.2 67.33 L628.7 69.22 L629.2 71.17 L629.7 73.17 L630.2 75.17 L630.7 77.13 L631.2 79.03 L631.7 80.84 L632.2 82.55 L632.7 84.13 L633.2 85.58 L633.7 86.89 L634.2 88.07 L634.7 89.1 L635.2 90.01 L635.7 90.79 L636.2 91.46 L636.7 92.03 L637.2 92.51 L637.7 92.9 L638.2 93.22 L638.7 93.48 L639.2 93.69 L639.7 93.86 L640.2 93.99 L640.7 94.09 L641.2 94.17 L641.7 94.23 L642.2 94.28 L642.7 94.31" fill="none" stroke="#f5b04a" stroke-width="1" stroke-linejoin="round" stroke-linecap="round" />
<path d="M611.2 94.2 L611.7 94.14 L612.2 94.06 L612.7 93.96 L613.2 93.84 L613.7 93.68 L614.2 93.5 L614.7 93.27 L615.2 92.99 L615.7 92.65 L616.2 92.25 L616.7 91.78 L617.2 91.22 L617.7 90.57 L618.2 89.82 L618.7 88.95 L619.2 87.97 L619.7 86.86 L620.2 85.62 L620.7 84.24 L621.2 82.72 L621.7 81.07 L622.2 79.28 L622.7 77.37 L623.2 75.35 L623.7 73.23 L624.2 71.03 L624.7 68.78 L625.2 66.5 L625.7 64.22 L626.2 61.97 L626.7 59.78 L627.2 57.7 L627.7 55.75 L628.2 53.97 L628.7 52.39 L629.2 51.05 L629.7 49.96 L630.2 49.14 L630.7 48.62 L631.2 48.41 L631.7 48.5 L632.2 48.9 L632.7 49.6 L633.2 50.58 L633.7 51.83 L634.2 53.32 L634.7 55.02 L635.2 56.9 L635.7 58.94 L636.2 61.08 L636.7 63.31 L637.2 65.59 L637.7 67.87 L638.2 70.14 L638.7 72.36 L639.2 74.51 L639.7 76.58 L640.2 78.53 L640.7 80.37 L641.2 82.07 L641.7 83.65 L642.2 85.08 L642.7 86.38 L643.2 87.54 L643.7 88.57 L644.2 89.48 L644.7 90.28 L645.2 90.97 L645.7 91.56 L646.2 92.07 L646.7 92.5 L647.2 92.86 L647.7 93.16 L648.2 93.41 L648.7 93.61 L649.2 93.78 L649.7 93.91" fill="none" stroke="#f5b04a" stroke-width="1" stroke-linejoin="round" stroke-linecap="round" />
<path d="M526.7 92.95 L527.2 92.98 L527.7 93.04 L528.2 93.07 L528.7 93.15 L529.2 93.3 L529.7 93.38 L530.2 93.46 L530.7 93.62 L531.2 93.71 L531.7 93.53 L532.2 93.11 L532.7 92.76 L533.2 92.51 L533.7 92.25 L534.2 92.02 L534.7 91.88 L535.2 91.87 L535.7 91.94 L536.2 92.23 L536.7 92.73 L537.2 93.16 L537.7 93.28 L538.2 93.27 L538.7 93.4 L539.2 93.83 L539.7 94.36 L540.2 94.65 L540.7 94.63 L541.2 94.38 L541.7 93.99 L542.2 93.38 L542.7 92.6 L543.2 92 L543.7 91.78 L544.2 91.83 L544.7 92.11 L545.2 92.68 L545.7 93.49 L546.2 94.42 L546.7 95.26 L547.2 95.84 L547.7 96 L548.2 96 L548.7 95.95 L549.2 95.61 L549.7 94.77 L550.2 93.69 L550.7 92.87 L551.2 92.4 L551.7 92.06 L552.2 91.97 L552.7 92.31 L553.2 92.98 L553.7 93.49 L554.2 93.63 L554.7 93.66 L555.2 93.82 L555.7 94.07 L556.2 94.23 L556.7 94.49 L557.2 94.89 L557.7 95.33 L558.2 95.71 L558.7 96.01 L559.2 96.24 L559.7 96.35 L560.2 96.4 L560.7 96.3 L561.2 95.83 L561.7 94.87 L562.2 93.71 L562.7 92.83 L563.2 92.36 L563.7 92.18 L564.2 92.29 L564.7 92.68 L565.2 93.28 L565.7 93.84 L566.2 94.26 L566.7 94.6 L567.2 94.81 L567.7 94.97 L568.2 95.17 L568.7 95.26 L569.2 95.19 L569.7 95.07 L570.2 94.97 L570.7 94.76 L571.2 94.41 L571.7 94.14 L572.2 93.79 L572.7 93.3 L573.2 92.88 L573.7 92.8 L574.2 93.18 L574.7 94.19 L575.2 95.58 L575.7 97.09 L576.2 98.22 L576.7 98.27 L577.2 97.63 L577.7 97.1 L578.2 96.94 L578.7 96.88 L579.2 96.6 L579.7 96.15 L580.2 95.75 L580.7 95.32 L581.2 94.67 L581.7 93.89 L582.2 93.18 L582.7 92.49 L583.2 91.86 L583.7 91.58 L584.2 91.84 L584.7 92.38 L585.2 92.88 L585.7 93.26 L586.2 93.63 L586.7 94.01 L587.2 94.19 L587.7 94.13 L588.2 94.06 L588.7 94.02 L589.2 93.85 L589.7 93.42 L590.2 92.73 L590.7 92.01 L591.2 91.61 L591.7 91.57 L592.2 91.69 L592.7 91.98 L593.2 92.49 L593.7 93.09 L594.2 93.57 L594.7 93.87 L595.2 94.01 L595.7 94 L596.2 93.98 L596.7 93.93 L597.2 93.85 L597.7 93.79 L598.2 93.76 L598.7 93.64 L599.2 93.46 L599.7 93.29 L599.6 92.75 L600.1 92.39 L600.6 92 L601.1 91.6 L601.6 91.21 L602.1 90.88 L602.6 90.62 L603.1 90.44 L603.6 90.31 L604.1 90.19 L604.6 90.02 L605.1 89.76 L605.6 89.41 L606.1 88.94 L606.6 88.31 L607.1 87.62 L607.6 86.87 L608.1 86.06 L608.6 85.21 L609.1 84.39 L609.6 83.61 L610.1 82.84 L610.6 82.07 L611.1 81.33 L611.6 80.6 L612.1 79.85 L612.6 78.99 L613.1 77.85 L613.6 76.43 L614.1 74.83 L614.6 73.21 L615.1 71.65 L615.6 70.07 L616.1 68.43 L616.6 66.79 L617.1 65.16 L617.6 63.42 L618.1 61.51 L618.6 59.51 L619.1 57.48 L619.6 55.43 L620.1 53.34 L620.6 51.2 L621.1 48.86 L621.6 46.4 L622.1 43.97 L622.6 41.68 L623.1 39.54 L623.6 37.36 L624.1 35.12 L624.6 33 L625.1 31.08 L625.6 29.5 L626.1 28.4 L626.6 27.48 L627.1 26.67 L627.6 25.99 L628.1 25.43 L629.2 24.94 L629.7 24.59 L630.2 24.58 L630.7 25.1 L631.2 25.94 L631.7 26.9 L632.2 27.96 L632.7 29.39 L633.2 31.11 L633.7 33.01 L634.2 35.15 L634.7 38.04 L635.2 41.43 L635.7 44.8 L636.2 47.68 L636.7 50.23 L637.2 52.62 L637.7 54.97 L638.2 57.28 L638.7 59.61 L639.2 62.09 L639.7 64.69 L640.2 67.31 L640.7 69.86 L641.2 72.37 L641.7 74.77 L642.2 77.05 L642.7 79.11 L643.2 80.98 L643.7 82.75 L644.2 84.38 L644.7 85.82 L645.2 87.2 L645.7 88.47 L646.2 89.59 L646.7 90.46 L647.2 91.09 L647.7 91.63 L648.2 92.07 L648.7 92.43 L649.2 92.77 L649.7 93.06 L650.2 93.5 L650.7 93.56 L651.2 93.73 L651.7 94.02 L652.2 94.32 L652.7 94.62 L653.2 95.06 L653.7 95.63 L654.2 96.21 L654.7 96.62 L655.2 96.88 L655.7 97.2 L656.2 97.58 L656.7 97.79 L657.2 97.81 L657.7 97.72 L658.2 97.6 L658.7 97.37 L659.2 97.08 L659.7 96.81 L660.2 96.53 L660.7 96.08 L661.2 95.5 L661.7 95.11 L662.2 94.98 L662.7 94.95 L663.2 94.99 L663.7 95.1 L664.2 95.27 L664.7 95.47 L665.2 95.83 L665.7 96.33 L666.2 96.65 L666.7 96.73 L667.2 96.72 L667.7 96.7 L668.2 96.77 L668.7 96.89 L669.2 96.94 L669.7 96.84 L670.2 96.69 L670.7 96.6 L671.2 96.42 L671.7 96.11 L672.2 95.94 L672.7 96.08 L673.2 96.35 L673.7 96.55 L674.2 96.72 L674.7 96.97 L675.2 97.2 L675.7 97.19 L676.2 97.03 L676.7 97.01 L677.2 97.06 L677.7 97 L678.2 96.98 L678.7 97.16 L679.2 97.42 L679.7 97.59 L680.2 97.63 L680.7 97.64 L681.2 97.66 L681.7 97.67 L682.2 97.64 L682.7 97.63 L683.2 97.6 L683.7 97.32 L684.2 96.75 L684.7 96.07 L685.2 95.39 L685.7 94.81 L686.2 94.68 L686.7 94.79 L687.2 94.74 L687.7 94.25 L688.2 93.61 L688.7 93.22 L689.2 93.28 L689.7 93.57 L690.2 93.88 L690.7 94.08 L691.2 94.26 L691.7 94.55 L692.2 94.9 L692.7 95.12 L693.2 95.16 L693.7 95.34 L694.2 95.67 L694.7 95.85 L695.2 95.69 L695.7 95.4 L696.2 95.23 L696.7 95.18 L697.2 95.09" fill="none" stroke="#e8383a" stroke-width="1.2" stroke-linejoin="round" stroke-linecap="round" />
<path d="M526.7 93.5 L527.2 93.5 L527.7 93.5 L528.2 93.5 L528.7 93.5 L529.2 93.5 L529.7 93.5 L530.2 93.5 L530.7 93.5 L531.2 93.5 L531.7 93.48 L532.2 93.36 L532.7 93.16 L533.2 92.92 L533.7 92.68 L534.2 92.45 L534.7 92.28 L535.2 92.2 L535.7 92.24 L536.2 92.37 L536.7 92.59 L537.2 92.87 L537.7 93.17 L538.2 93.49 L538.7 93.79 L539.2 94.06 L539.7 94.26 L540.2 94.38 L540.7 94.38 L541.2 94.18 L541.7 93.81 L542.2 93.35 L542.7 92.86 L543.2 92.41 L543.7 92.07 L544.2 91.91 L544.7 92.07 L545.2 92.67 L545.7 93.53 L546.2 94.47 L546.7 95.33 L547.2 95.93 L547.7 96.09 L548.2 95.93 L548.7 95.56 L549.2 95.06 L549.7 94.48 L550.2 93.88 L550.7 93.33 L551.2 92.87 L551.7 92.58 L552.2 92.5 L552.7 92.58 L553.2 92.75 L553.7 93 L554.2 93.29 L554.7 93.61 L555.2 93.93 L555.7 94.24 L556.2 94.51 L556.7 94.83 L557.2 95.19 L557.7 95.55 L558.2 95.9 L558.7 96.19 L559.2 96.4 L559.7 96.5 L560.2 96.38 L560.7 95.96 L561.2 95.32 L561.7 94.58 L562.2 93.82 L562.7 93.15 L563.2 92.68 L563.7 92.5 L564.2 92.61 L564.7 92.89 L565.2 93.29 L565.7 93.74 L566.2 94.18 L566.7 94.54 L567.2 94.76 L567.7 94.8 L568.2 94.78 L568.7 94.76 L569.2 94.71 L569.7 94.66 L570.2 94.6 L570.7 94.52 L571.2 94.44 L571.7 94.3 L572.2 93.99 L572.7 93.59 L573.2 93.21 L573.7 92.95 L574.2 92.99 L574.7 93.81 L575.2 95.16 L575.7 96.59 L576.2 97.68 L576.7 98 L577.2 97.88 L577.7 97.62 L578.2 97.26 L578.7 96.82 L579.2 96.34 L579.7 95.85 L580.2 95.38 L580.7 94.91 L581.2 94.32 L581.7 93.66 L582.2 93.01 L582.7 92.45 L583.2 92.05 L583.7 91.9 L584.2 91.99 L584.7 92.22 L585.2 92.55 L585.7 92.94 L586.2 93.36 L586.7 93.75 L587.2 94.08 L587.7 94.31 L588.2 94.4 L588.7 94.24 L589.2 93.82 L589.7 93.27 L590.2 92.69 L590.7 92.21 L591.2 91.93 L591.7 91.94 L592.2 92.15 L592.7 92.5 L593.2 92.92 L593.7 93.36 L594.2 93.75 L594.7 94.05 L595.2 94.2 L595.7 94.19 L596.2 94.14 L596.7 94.07 L597.2 93.97 L597.7 93.84 L598.2 93.7 L598.7 93.53 L599.2 93.35 L599.7 93.16 L600.2 92.96 L600.7 92.76 L601.2 92.55 L601.7 92.34 L602.2 92.13 L602.7 91.9 L603.2 91.65 L603.7 91.38 L604.2 91.1 L604.7 90.79 L605.2 90.46 L605.7 90.1 L606.2 89.73 L606.7 89.33 L607.2 88.91 L607.7 88.46 L608.2 87.99 L608.7 87.5 L609.2 86.95 L609.7 86.31 L610.2 85.58 L610.7 84.79 L611.2 83.91 L611.7 82.98 L612.2 81.98 L612.7 80.92 L613.2 79.74 L613.7 78.34 L614.2 76.79 L614.7 75.14 L615.2 73.48 L615.7 71.85 L616.2 70.22 L616.7 68.55 L617.2 66.84 L617.7 65.08 L618.2 63.27 L618.7 61.39 L619.2 59.45 L619.7 57.45 L620.2 55.39 L620.7 53.28 L621.2 51.13 L621.7 48.85 L622.2 46.49 L622.7 44.11 L623.2 41.79 L623.7 39.6 L624.2 37.4 L624.7 35.11 L625.2 32.9 L625.7 30.94 L626.2 29.38 L626.7 28.33 L627.2 27.42 L627.7 26.59 L628.2 25.85 L628.7 25.26 L629.2 24.84 L629.7 24.62 L630.2 24.69 L630.7 25.18 L631.2 25.98 L631.7 26.92 L632.2 27.94 L632.7 29.32 L633.2 31 L633.7 32.94 L634.2 35.14 L634.7 38.06 L635.2 41.42 L635.7 44.73 L636.2 47.58 L636.7 50.15 L637.2 52.58 L637.7 54.94 L638.2 57.3 L638.7 59.71 L639.2 62.22 L639.7 64.83 L640.2 67.44 L640.7 70 L641.2 72.43 L641.7 74.68 L642.2 76.88 L642.7 79.02 L643.2 81.04 L643.7 82.89 L644.2 84.51 L644.7 85.94 L645.2 87.31 L645.7 88.57 L646.2 89.66 L646.7 90.52 L647.2 91.11 L647.7 91.58 L648.2 91.99 L648.7 92.34 L649.2 92.66 L649.7 92.94 L650.2 93.21 L650.7 93.48 L651.2 93.76 L651.7 94.03 L652.2 94.28 L652.7 94.53 L653.2 94.76 L653.7 94.99 L654.2 95.22 L654.7 95.46 L655.2 95.7 L655.7 95.98 L656.2 96.31 L656.7 96.63 L657.2 96.9 L657.7 97.07 L658.2 97.09 L658.7 97 L659.2 96.83 L659.7 96.61 L660.2 96.36 L660.7 96.09 L661.2 95.84 L661.7 95.63 L662.2 95.47 L662.7 95.4 L663.2 95.43 L663.7 95.53 L664.2 95.69 L664.7 95.87 L665.2 96.07 L665.7 96.25 L666.2 96.4 L666.7 96.48 L667.2 96.5 L667.7 96.49 L668.2 96.47 L668.7 96.44 L669.2 96.41 L669.7 96.37 L670.2 96.34 L670.7 96.3 L671.2 96.26 L671.7 96.24 L672.2 96.21 L672.7 96.2 L673.2 96.2 L673.7 96.26 L674.2 96.36 L674.7 96.49 L675.2 96.66 L675.7 96.83 L676.2 97.01 L676.7 97.18 L677.2 97.33 L677.7 97.45 L678.2 97.53 L678.7 97.6 L679.2 97.67 L679.7 97.73 L680.2 97.8 L680.7 97.85 L681.2 97.9 L681.7 97.94 L682.2 97.97 L682.7 97.99 L683.2 98 L683.7 97.79 L684.2 97.26 L684.7 96.56 L685.2 95.83 L685.7 95.24 L686.2 94.88 L686.7 94.6 L687.2 94.33 L687.7 94.08 L688.2 93.88 L688.7 93.72 L689.2 93.63 L689.7 93.6 L690.2 93.76 L690.7 94.07 L691.2 94.47 L691.7 94.88 L692.2 95.23 L692.7 95.46 L693.2 95.5 L693.7 95.5 L694.2 95.5 L694.7 95.49 L695.2 95.49 L695.7 95.48 L696.2 95.46 L696.7 95.44 L697.2 95.41" fill="none" stroke="#4a4af0" stroke-width="1.2" stroke-linejoin="round" stroke-linecap="round" />
<line x1="624.3" y1="36.6" x2="638.9" y2="21.5" stroke="#111" stroke-width="1.3" />
<text x="604.8" y="30.6" font-size="8.9" font-family="Liberation Sans" fill="#222" textLength="15.1" lengthAdjust="spacingAndGlyphs">N 1s</text>
<text x="621.6" y="22.8" font-size="8.9" font-family="Liberation Sans" fill="#222" textLength="15.5" lengthAdjust="spacingAndGlyphs">N 1s</text>
<text x="625.1" y="30" font-size="8.9" font-family="Liberation Sans" fill="#222" textLength="5.5" lengthAdjust="spacingAndGlyphs">A</text>
<path d="M39 187.3 H209.4 V291.7 H39 Z" fill="none" stroke="#7a7a7a" stroke-width="1"/>
<line x1="37.2" y1="187.4" x2="42.3" y2="187.4" stroke="#7a7a7a" stroke-width="1" />
<line x1="37.2" y1="204.78" x2="42.3" y2="204.78" stroke="#7a7a7a" stroke-width="1" />
<line x1="37.2" y1="222.16" x2="42.3" y2="222.16" stroke="#7a7a7a" stroke-width="1" />
<line x1="37.2" y1="239.54" x2="42.3" y2="239.54" stroke="#7a7a7a" stroke-width="1" />
<line x1="37.2" y1="256.92" x2="42.3" y2="256.92" stroke="#7a7a7a" stroke-width="1" />
<line x1="37.2" y1="274.3" x2="42.3" y2="274.3" stroke="#7a7a7a" stroke-width="1" />
<line x1="37.2" y1="291.68" x2="42.3" y2="291.68" stroke="#7a7a7a" stroke-width="1" />
<line x1="43.15" y1="290.1" x2="43.15" y2="294.5" stroke="#7a7a7a" stroke-width="1" />
<line x1="52.6" y1="290.1" x2="52.6" y2="294.5" stroke="#7a7a7a" stroke-width="1" />
<line x1="62.05" y1="290.1" x2="62.05" y2="294.5" stroke="#7a7a7a" stroke-width="1" />
<line x1="71.5" y1="290.1" x2="71.5" y2="294.5" stroke="#7a7a7a" stroke-width="1" />
<line x1="80.95" y1="290.1" x2="80.95" y2="294.5" stroke="#7a7a7a" stroke-width="1" />
<line x1="90.4" y1="290.1" x2="90.4" y2="294.5" stroke="#7a7a7a" stroke-width="1" />
<line x1="99.85" y1="290.1" x2="99.85" y2="294.5" stroke="#7a7a7a" stroke-width="1" />
<line x1="109.3" y1="290.1" x2="109.3" y2="294.5" stroke="#7a7a7a" stroke-width="1" />
<line x1="118.75" y1="290.1" x2="118.75" y2="294.5" stroke="#7a7a7a" stroke-width="1" />
<line x1="128.2" y1="290.1" x2="128.2" y2="294.5" stroke="#7a7a7a" stroke-width="1" />
<line x1="137.65" y1="290.1" x2="137.65" y2="294.5" stroke="#7a7a7a" stroke-width="1" />
<line x1="147.1" y1="290.1" x2="147.1" y2="294.5" stroke="#7a7a7a" stroke-width="1" />
<line x1="156.55" y1="290.1" x2="156.55" y2="294.5" stroke="#7a7a7a" stroke-width="1" />
<line x1="166" y1="290.1" x2="166" y2="294.5" stroke="#7a7a7a" stroke-width="1" />
<line x1="175.45" y1="290.1" x2="175.45" y2="294.5" stroke="#7a7a7a" stroke-width="1" />
<line x1="184.9" y1="290.1" x2="184.9" y2="294.5" stroke="#7a7a7a" stroke-width="1" />
<line x1="194.35" y1="290.1" x2="194.35" y2="294.5" stroke="#7a7a7a" stroke-width="1" />
<line x1="203.8" y1="290.1" x2="203.8" y2="294.5" stroke="#7a7a7a" stroke-width="1" />
<text x="33.7" y="192.2" font-size="12" font-family="Liberation Sans" fill="#1a1a1a" text-anchor="end">800</text>
<text x="33.7" y="227.5" font-size="12" font-family="Liberation Sans" fill="#1a1a1a" text-anchor="end">600</text>
<text x="33.7" y="262" font-size="12" font-family="Liberation Sans" fill="#1a1a1a" text-anchor="end">400</text>
<text x="33.7" y="296.5" font-size="12" font-family="Liberation Sans" fill="#1a1a1a" text-anchor="end">200</text>
<text x="52.6" y="313" font-size="12" font-family="Liberation Sans" fill="#1a1a1a" text-anchor="middle">346</text>
<text x="90.4" y="313" font-size="12" font-family="Liberation Sans" fill="#1a1a1a" text-anchor="middle">342</text>
<text x="128.2" y="313" font-size="12" font-family="Liberation Sans" fill="#1a1a1a" text-anchor="middle">338</text>
<text x="166" y="313" font-size="12" font-family="Liberation Sans" fill="#1a1a1a" text-anchor="middle">334</text>
<text x="203.8" y="313" font-size="12" font-family="Liberation Sans" fill="#1a1a1a" text-anchor="middle">330</text>
<text x="62.7" y="333" font-size="10.5" font-family="Liberation Sans" fill="#222" textLength="93.6" lengthAdjust="spacingAndGlyphs">Binding Energy (eV)</text>
<text x="8.1" y="231.4" font-size="10.2" font-family="Liberation Sans" fill="#222" text-anchor="middle" textLength="44.5" lengthAdjust="spacingAndGlyphs" transform="rotate(-90 8.1 231.4)">Counts / s</text>
<text x="159.6" y="202.2" font-size="10.5" font-family="Liberation Serif" fill="#1e1e1e" textLength="11.5" lengthAdjust="spacingAndGlyphs">(d)</text>
<path d="M56 263 L84.4 266.6 L111.7 269.8 L121.1 270.8 L145.6 277 L165.5 281.5 L174.7 283" fill="none" stroke="#7ee06a" stroke-width="1.3" stroke-linejoin="round" stroke-linecap="round" />
<path d="M57.5 262.75 L58 262.71 L58.5 262.65 L59 262.57 L59.5 262.46 L60 262.32 L60.5 262.15 L61 261.93 L61.5 261.67 L62 261.37 L62.5 261.01 L63 260.59 L63.5 260.11 L64 259.57 L64.5 258.95 L65 258.26 L65.5 257.49 L66 256.64 L66.5 255.72 L67 254.71 L67.5 253.63 L68 252.48 L68.5 251.26 L69 249.97 L69.5 248.63 L70 247.24 L70.5 245.83 L71 244.39 L71.5 242.94 L72 241.51 L72.5 240.1 L73 238.74 L73.5 237.43 L74 236.2 L74.5 235.07 L75 234.05 L75.5 233.15 L76 232.4 L76.5 231.8 L77 231.36 L77.5 231.08 L78 230.99 L78.5 231.07 L79 231.33 L79.5 231.76 L80 232.36 L80.5 233.12 L81 234.03 L81.5 235.08 L82 236.25 L82.5 237.53 L83 238.9 L83.5 240.35 L84 241.85 L84.5 243.39 L85 244.95 L85.5 246.52 L86 248.07 L86.5 249.61 L87 251.11 L87.5 252.56 L88 253.96 L88.5 255.29 L89 256.55 L89.5 257.74 L90 258.85 L90.5 259.88 L91 260.83 L91.5 261.71 L92 262.5 L92.5 263.23 L93 263.88 L93.5 264.47 L94 265 L94.5 265.47 L95 265.89 L95.5 266.26 L96 266.59 L96.5 266.88 L97 267.13 L97.5 267.36 L98 267.56 L98.5 267.73 L99 267.89" fill="none" stroke="#f5b04a" stroke-width="0.9" stroke-linejoin="round" stroke-linecap="round" />
<path d="M78.5 265.63 L79 265.61 L79.5 265.58 L80 265.52 L80.5 265.44 L81 265.32 L81.5 265.15 L82 264.94 L82.5 264.68 L83 264.36 L83.5 263.98 L84 263.54 L84.5 263.03 L85 262.44 L85.5 261.79 L86 261.08 L86.5 260.31 L87 259.5 L87.5 258.66 L88 257.8 L88.5 256.94 L89 256.1 L89.5 255.29 L90 254.55 L90.5 253.89 L91 253.33 L91.5 252.89 L92 252.58 L92.5 252.42 L93 252.4 L93.5 252.53 L94 252.82 L94.5 253.25 L95 253.8 L95.5 254.48 L96 255.26 L96.5 256.11 L97 257.03 L97.5 257.99 L98 258.97 L98.5 259.95 L99 260.91 L99.5 261.84 L100 262.72 L100.5 263.55 L101 264.32 L101.5 265.02 L102 265.65 L102.5 266.22 L103 266.72 L103.5 267.16 L104 267.55 L104.5 267.88 L105 268.16 L105.5 268.41 L106 268.61 L106.5 268.79 L107 268.95 L107.5 269.08" fill="none" stroke="#f5b04a" stroke-width="0.9" stroke-linejoin="round" stroke-linecap="round" />
<path d="M90 267 L90.5 266.98 L91 266.94 L91.5 266.88 L92 266.79 L92.5 266.66 L93 266.49 L93.5 266.28 L94 266.02 L94.5 265.7 L95 265.32 L95.5 264.88 L96 264.36 L96.5 263.77 L97 263.11 L97.5 262.37 L98 261.57 L98.5 260.7 L99 259.77 L99.5 258.8 L100 257.79 L100.5 256.77 L101 255.75 L101.5 254.74 L102 253.78 L102.5 252.88 L103 252.05 L103.5 251.34 L104 250.74 L104.5 250.27 L105 249.96 L105.5 249.81 L106 249.82 L106.5 249.99 L107 250.33 L107.5 250.82 L108 251.45 L108.5 252.22 L109 253.1 L109.5 254.07 L110 255.12 L110.5 256.22 L111 257.35 L111.5 258.49 L112 259.62 L112.5 260.73 L113 261.8 L113.5 262.82 L114 263.77 L114.5 264.66 L115 265.48 L115.5 266.23 L116 266.9 L116.5 267.5 L117 268.03 L117.5 268.49 L118 268.9 L118.5 269.25 L119 269.56 L119.5 269.82 L120 270.04 L120.5 270.24 L121 270.4 L121.5 270.6 L122 270.8" fill="none" stroke="#f5b04a" stroke-width="0.9" stroke-linejoin="round" stroke-linecap="round" />
<path d="M115 269.27 L115.5 269 L116 268.63 L116.5 268.14 L117 267.5 L117.5 266.68 L118 265.65 L118.5 264.39 L119 262.85 L119.5 261.02 L120 258.86 L120.5 256.37 L121 253.54 L121.5 250.43 L122 247.01 L122.5 243.32 L123 239.39 L123.5 235.31 L124 231.15 L124.5 227.01 L125 222.99 L125.5 219.23 L126 215.82 L126.5 212.87 L127 210.49 L127.5 208.77 L128 207.76 L128.5 207.5 L129 208.01 L129.5 209.28 L130 211.25 L130.5 213.88 L131 217.08 L131.5 220.74 L132 224.77 L132.5 229.03 L133 233.42 L133.5 237.84 L134 242.18 L134.5 246.35 L135 250.3 L135.5 253.97 L136 257.32 L136.5 260.33 L137 263 L137.5 265.34 L138 267.35 L138.5 269.07 L139 270.51 L139.5 271.72 L140 272.72 L140.5 273.54 L141 274.21 L141.5 274.76 L142 275.21" fill="none" stroke="#f5b04a" stroke-width="0.9" stroke-linejoin="round" stroke-linecap="round" />
<path d="M129 272.52 L129.5 272.54 L130 272.54 L130.5 272.49 L131 272.4 L131.5 272.26 L132 272.05 L132.5 271.77 L133 271.41 L133.5 270.95 L134 270.39 L134.5 269.72 L135 268.93 L135.5 268.03 L136 267.01 L136.5 265.89 L137 264.67 L137.5 263.38 L138 262.02 L138.5 260.64 L139 259.25 L139.5 257.9 L140 256.62 L140.5 255.45 L141 254.42 L141.5 253.58 L142 252.94 L142.5 252.53 L143 252.37 L143.5 252.47 L144 252.83 L144.5 253.44 L145 254.29 L145.5 255.35 L146 256.59 L146.5 257.97 L147 259.47 L147.5 261.05 L148 262.67 L148.5 264.3 L149 265.9 L149.5 267.45 L150 268.93 L150.5 270.31 L151 271.59 L151.5 272.75 L152 273.8 L152.5 274.73 L153 275.56 L153.5 276.27 L154 276.9 L154.5 277.43 L155 277.89 L155.5 278.29 L156 278.63 L156.5 278.92 L157 279.17 L157.5 279.39" fill="none" stroke="#f5b04a" stroke-width="0.9" stroke-linejoin="round" stroke-linecap="round" />
<path d="M143.5 275.96 L144 275.88 L144.5 275.74 L145 275.52 L145.5 275.2 L146 274.74 L146.5 274.15 L147 273.4 L147.5 272.46 L148 271.33 L148.5 270 L149 268.45 L149.5 266.7 L150 264.75 L150.5 262.64 L151 260.39 L151.5 258.06 L152 255.71 L152.5 253.39 L153 251.19 L153.5 249.19 L154 247.44 L154.5 246.03 L155 245.01 L155.5 244.42 L156 244.3 L156.5 244.65 L157 245.46 L157.5 246.71 L158 248.35 L158.5 250.32 L159 252.55 L159.5 254.98 L160 257.52 L160.5 260.1 L161 262.65 L161.5 265.13 L162 267.47 L162.5 269.64 L163 271.62 L163.5 273.39 L164 274.95 L164.5 276.31 L165 277.47 L165.5 278.45 L166 279.24 L166.5 279.89 L167 280.42 L167.5 280.85 L168 281.19 L168.5 281.48" fill="none" stroke="#f5b04a" stroke-width="0.9" stroke-linejoin="round" stroke-linecap="round" />
<path d="M39 262.16 L39.5 262.13 L40 262 L40.5 261.96 L41 261.98 L41.5 261.95 L42 261.95 L42.5 262.54 L43 263.61 L43.5 264.19 L44 263.94 L44.5 263.47 L45 263.21 L45.5 263.27 L46 263.4 L46.5 263.45 L47 263.32 L47.5 263.08 L48 262.94 L48.5 262.77 L49 262.49 L49.5 262.31 L50 262.52 L50.5 262.96 L51 263.17 L51.5 262.99 L52 262.71 L52.5 262.53 L53 262.61 L53.5 262.82 L54 262.89 L54.5 262.71 L55 262.45 L55.5 262.26 L56 262.29 L56.5 262.42 L57 262.43 L57.5 261.99 L58 261.27 L58.5 260.79 L59 260.39 L59.5 259.78 L60 259.34 L60.5 259.1 L61 258.84 L61.5 258.55 L62 259.06 L62.5 258.96 L63 258.72 L63.5 258.18 L64 257.5 L64.5 256.9 L65 256.51 L65.5 256.16 L66 255.64 L66.5 254.91 L67 254.12 L67.5 253.27 L68 252.26 L68.5 251.1 L69 250.02 L69.5 249.14 L70 248.32 L70.5 247.27 L71 245.82 L71.5 244.16 L72 242.52 L72.5 241.1 L73 239.78 L73.5 238.3 L74 236.71 L74.5 235.24 L75 233.76 L75.5 232.18 L76 230.57 L76.5 229.28 L77 228.5 L77.5 227.89 L78 227.44 L78.5 227.43 L79 227.84 L79.5 228.35 L80 228.56 L80.5 228.36 L81 228.25 L81.5 228.61 L82 229.42 L82.5 230.59 L83 232.15 L83.5 233.83 L84 235.44 L84.5 236.85 L85 238.09 L85.5 239.05 L86 239.69 L86.5 240.22 L87 240.74 L87.5 241.34 L88 241.97 L88.5 242.53 L89 242.78 L89.5 242.81 L90 242.96 L90.5 243.32 L91 243.65 L91.5 243.91 L92 244.16 L92.5 244.47 L93 244.69 L93.5 244.81 L94 244.9 L94.5 244.97 L95 244.9 L95.5 244.71 L96 244.61 L96.5 244.78 L97 245.08 L97.5 245.25 L98 245.24 L98.5 245.22 L99 245.21 L99.5 245.08 L100 244.74 L100.5 244.38 L101 244.03 L101.5 243.6 L102 243.21 L102.5 243 L103 242.98 L103.5 242.96 L104 242.9 L104.5 242.81 L105 242.81 L105.5 242.95 L106 243.16 L106.5 243.34 L107 243.44 L107.5 243.66 L108 244.09 L108.5 244.68 L109 245.33 L109.5 246.03 L110 246.65 L110.5 247.17 L111 247.86 L111.5 248.73 L112 249.65 L112.5 250.57 L113 251.57 L113.5 252.68 L114 253.9 L114.5 255.18 L115 256.26 L115.5 256.71 L116 256.09 L116.5 254.52 L117 252.52 L117.5 250.56 L118 248.81 L118.5 247.06 L119 244.89 L119.5 242.48 L120 240.04 L120.5 237.61 L121 235.05 L121.5 232.28 L122 229.29 L122.5 225.96 L123 222.39 L123.5 218.88 L124 215.78 L124.5 213.42 L125 211.26 L125.5 209.21 L126 207.44 L126.5 206 L127 204.92 L127.5 204.23 L128 203.65 L128.5 203.2 L129 202.99 L129.5 203.36 L130 204.35 L130.5 205.49 L131 206.6 L131.5 207.99 L132 209.99 L132.5 212.34 L133 214.77 L133.5 217.08 L134 219.3 L134.5 221.47 L135 223.72 L135.5 226.07 L136 228.29 L136.5 230.33 L137 231.99 L137.5 233.33 L138 234.46 L138.5 235.64 L139 236.85 L139.5 237.8 L140 238.44 L140.5 238.98 L141 239.54 L141.5 240.19 L142 240.88 L142.5 241.52 L143 242.02 L143.5 242.37 L144 242.58 L144.5 242.62 L145 242.62 L145.5 242.63 L146 242.78 L146.5 243 L147 243.11 L147.5 243.1 L148 243.02 L148.5 242.83 L149 242.39 L149.5 241.77 L150 241.28 L150.5 241 L151 240.8 L151.5 240.53 L152 240.23 L152.5 239.95 L153 239.63 L153.5 239.26 L154 238.97 L154.5 238.79 L155 238.71 L155.5 238.67 L156 238.76 L156.5 238.99 L157 239.28 L157.5 239.93 L158 241.5 L158.5 243.66 L159 245.87 L159.5 247.62 L160 249.19 L160.5 250.98 L161 252.97 L161.5 254.98 L162 257.01 L162.5 259.15 L163 261.47 L163.5 263.83 L164 265.99 L164.5 267.95 L165 269.76 L165.5 271.32 L166 273.47 L166.5 275.1 L167 275.69 L167.5 275.68 L168 275.79 L168.5 276.67 L169 277.89 L169.5 278.68 L170 278.58 L170.5 278.1 L171 277.94 L171.5 278.54 L172 279.46 L172.5 280.03 L173 280.13 L173.5 280.14 L174 280.22 L174.5 280.38 L175 280.52 L175.5 280.67 L176 280.43 L176.5 279.85 L177 279.6 L177.5 279.7 L178 279.76 L178.5 279.84 L179 279.86 L179.5 279.8 L180 279.81 L180.5 280.03 L181 280.34 L181.5 280.55 L182 281.02 L182.5 281.78 L183 282.24 L183.5 281.88 L184 281.14 L184.5 280.78 L185 281 L185.5 281.33 L186 281.56 L186.5 281.92 L187 282.5 L187.5 282.86 L188 282.65 L188.5 282.18 L189 281.94 L189.5 282.12 L190 282.38 L190.5 282.51 L191 282.43 L191.5 282.29 L192 282.22 L192.5 282.55 L193 283.17 L193.5 283.51 L194 283.09 L194.5 282.32 L195 281.9 L195.5 282.56 L196 283.78 L196.5 284.43 L197 284.14 L197.5 283.58 L198 283.28 L198.5 283.37 L199 283.53 L199.5 283.61 L200 283.49 L200.5 283.27 L201 283.15 L201.5 283.11 L202 283.03 L202.5 282.99 L203 283.35 L203.5 284 L204 284.36 L204.5 284.3 L205 284.19 L205.5 284.13 L206 284.08 L206.5 283.98 L207 283.93 L207.5 283.34 L208 282.24 L208.5 281.65 L209 282.06" fill="none" stroke="#f04848" stroke-width="1" stroke-linejoin="round" stroke-linecap="round" />
<path d="M39 262.5 L39.5 262.59 L40 262.66 L40.5 262.74 L41 262.8 L41.5 262.86 L42 262.91 L42.5 262.95 L43 262.98 L43.5 262.99 L44 263 L44.5 263 L45 262.98 L45.5 262.96 L46 262.94 L46.5 262.91 L47 262.87 L47.5 262.83 L48 262.79 L48.5 262.74 L49 262.69 L49.5 262.65 L50 262.6 L50.5 262.55 L51 262.5 L51.5 262.44 L52 262.38 L52.5 262.31 L53 262.24 L53.5 262.16 L54 262.08 L54.5 261.99 L55 261.89 L55.5 261.79 L56 261.69 L56.5 261.58 L57 261.45 L57.5 261.31 L58 261.14 L58.5 260.97 L59 260.77 L59.5 260.56 L60 260.34 L60.5 260.1 L61 259.84 L61.5 259.56 L62 259.24 L62.5 258.9 L63 258.52 L63.5 258.11 L64 257.67 L64.5 257.2 L65 256.7 L65.5 256.14 L66 255.5 L66.5 254.78 L67 254 L67.5 253.16 L68 252.28 L68.5 251.37 L69 250.41 L69.5 249.37 L70 248.23 L70.5 247.02 L71 245.74 L71.5 244.4 L72 242.94 L72.5 241.32 L73 239.64 L73.5 237.97 L74 236.39 L74.5 234.93 L75 233.46 L75.5 232.02 L76 230.68 L76.5 229.54 L77 228.64 L77.5 227.81 L78 227.26 L78.5 227.3 L79 227.82 L79.5 228.54 L80 229.2 L80.5 229.63 L81 229.97 L81.5 230.32 L82 230.77 L82.5 231.51 L83 232.84 L83.5 234.44 L84 235.97 L84.5 237.08 L85 237.93 L85.5 238.69 L86 239.38 L86.5 240 L87 240.57 L87.5 241.1 L88 241.6 L88.5 242.1 L89 242.57 L89.5 243 L90 243.37 L90.5 243.66 L91 243.88 L91.5 244.07 L92 244.26 L92.5 244.43 L93 244.58 L93.5 244.71 L94 244.8 L94.5 244.87 L95 244.9 L95.5 244.9 L96 244.9 L96.5 244.9 L97 244.9 L97.5 244.9 L98 244.9 L98.5 244.9 L99 244.9 L99.5 244.9 L100 244.79 L100.5 244.56 L101 244.24 L101.5 243.89 L102 243.53 L102.5 243.2 L103 242.95 L103.5 242.81 L104 242.81 L104.5 242.84 L105 242.89 L105.5 242.98 L106 243.08 L106.5 243.19 L107 243.33 L107.5 243.62 L108 244.1 L108.5 244.71 L109 245.4 L109.5 246.13 L110 246.83 L110.5 247.51 L111 248.29 L111.5 249.12 L112 249.96 L112.5 250.75 L113 251.45 L113.5 252 L114 252.52 L114.5 253 L115 253.36 L115.5 253.5 L116 253.19 L116.5 252.36 L117 251.17 L117.5 249.76 L118 248.29 L118.5 246.69 L119 244.67 L119.5 242.39 L120 240 L120.5 237.5 L121 234.79 L121.5 231.94 L122 229 L122.5 225.77 L123 222.25 L123.5 218.82 L124 215.86 L124.5 213.58 L125 211.46 L125.5 209.5 L126 207.76 L126.5 206.34 L127 205.29 L127.5 204.62 L128 204.04 L128.5 203.61 L129 203.41 L129.5 203.58 L130 204.22 L130.5 205.17 L131 206.27 L131.5 207.65 L132 209.65 L132.5 212.03 L133 214.51 L133.5 216.85 L134 219.22 L134.5 221.67 L135 224.07 L135.5 226.29 L136 228.27 L136.5 230.18 L137 231.97 L137.5 233.54 L138 234.8 L138.5 235.8 L139 236.67 L139.5 237.45 L140 238.14 L140.5 238.79 L141 239.4 L141.5 240.03 L142 240.68 L142.5 241.29 L143 241.83 L143.5 242.24 L144 242.48 L144.5 242.57 L145 242.64 L145.5 242.71 L146 242.75 L146.5 242.79 L147 242.8 L147.5 242.76 L148 242.63 L148.5 242.42 L149 242.14 L149.5 241.83 L150 241.51 L150.5 241.19 L151 240.9 L151.5 240.59 L152 240.21 L152.5 239.81 L153 239.42 L153.5 239.07 L154 238.79 L154.5 238.63 L155 238.61 L155.5 238.68 L156 238.84 L156.5 239.06 L157 239.34 L157.5 239.98 L158 241.42 L158.5 243.36 L159 245.45 L159.5 247.36 L160 249.23 L160.5 251.18 L161 253.19 L161.5 255.23 L162 257.27 L162.5 259.3 L163 261.41 L163.5 263.66 L164 265.92 L164.5 268.06 L165 269.96 L165.5 271.5 L166 272.78 L166.5 273.96 L167 274.97 L167.5 275.76 L168 276.29 L168.5 276.72 L169 277.11 L169.5 277.45 L170 277.76 L170.5 278.04 L171 278.28 L171.5 278.51 L172 278.72 L172.5 278.93 L173 279.12 L173.5 279.32 L174 279.5 L174.5 279.67 L175 279.84 L175.5 280 L176 280.15 L176.5 280.29 L177 280.43 L177.5 280.56 L178 280.69 L178.5 280.81 L179 280.93 L179.5 281.05 L180 281.16 L180.5 281.27 L181 281.37 L181.5 281.47 L182 281.57 L182.5 281.67 L183 281.76 L183.5 281.85 L184 281.94 L184.5 282.04 L185 282.13 L185.5 282.22 L186 282.32 L186.5 282.43 L187 282.55 L187.5 282.66 L188 282.77 L188.5 282.86 L189 282.93 L189.5 282.98 L190 283 L190.5 283 L191 283 L191.5 283 L192 283 L192.5 283 L193 283 L193.5 283 L194 283 L194.5 283 L195 283 L195.5 283 L196 283 L196.5 283 L197 283 L197.5 283 L198 283 L198.5 283 L199 283 L199.5 283 L200 283 L200.5 283 L201 283 L201.5 283 L202 283 L202.5 283 L203 283 L203.5 283 L204 283 L204.5 283 L205 283 L205.5 283 L206 283 L206.5 283 L207 283 L207.5 283 L208 283 L208.5 283 L209 283" fill="none" stroke="#4646f6" stroke-width="1" stroke-linejoin="round" stroke-linecap="round" />
<line x1="78.4" y1="226.9" x2="85.7" y2="220.5" stroke="#111" stroke-width="1.2" />
<line x1="128" y1="202.9" x2="135.5" y2="195.8" stroke="#111" stroke-width="1.2" />
<line x1="93.5" y1="247" x2="100" y2="240.5" stroke="#111" stroke-width="1" />
<line x1="105.6" y1="243.8" x2="113" y2="238.3" stroke="#111" stroke-width="1" />
<line x1="142.9" y1="242.7" x2="149.4" y2="236.8" stroke="#111" stroke-width="1" />
<line x1="156.9" y1="238.6" x2="163.4" y2="232.7" stroke="#111" stroke-width="1" />
<text x="41.4" y="222.2" font-size="10.2" font-family="Liberation Sans" fill="#222" textLength="42.6" lengthAdjust="spacingAndGlyphs">Pd3d, 3/2 B</text>
<text x="91" y="198.1" font-size="10.2" font-family="Liberation Sans" fill="#222" textLength="43.4" lengthAdjust="spacingAndGlyphs">Pd3d, 5/2 B</text>
<text x="87" y="239.2" font-size="5.2" font-family="Liberation Serif" fill="#000" textLength="20.5" lengthAdjust="spacingAndGlyphs" font-weight="bold">Pd4d, 3/2 A</text>
<text x="103.8" y="235.3" font-size="5.2" font-family="Liberation Serif" fill="#000" textLength="16.7" lengthAdjust="spacingAndGlyphs" font-weight="bold">Pd4d, 3/2</text>
<text x="138.2" y="234.5" font-size="5.2" font-family="Liberation Serif" fill="#000" textLength="14.8" lengthAdjust="spacingAndGlyphs" font-weight="bold">Pd4d, 3/2 A</text>
<text x="160.6" y="230.8" font-size="5.2" font-family="Liberation Serif" fill="#000" textLength="15.8" lengthAdjust="spacingAndGlyphs" font-weight="bold">Pd4d, 5/2</text>
<path d="M286.6 188.4 H457.2 V293.8 H286.6 Z" fill="none" stroke="#cfcfcf" stroke-width="1"/>
<line x1="284" y1="188.1" x2="289" y2="188.1" stroke="#c8c8c8" stroke-width="1" />
<line x1="284" y1="205.7" x2="289" y2="205.7" stroke="#c8c8c8" stroke-width="1" />
<line x1="284" y1="223.3" x2="289" y2="223.3" stroke="#c8c8c8" stroke-width="1" />
<line x1="284" y1="240.9" x2="289" y2="240.9" stroke="#c8c8c8" stroke-width="1" />
<line x1="284" y1="258.5" x2="289" y2="258.5" stroke="#c8c8c8" stroke-width="1" />
<line x1="284" y1="276.1" x2="289" y2="276.1" stroke="#c8c8c8" stroke-width="1" />
<line x1="284" y1="293.7" x2="289" y2="293.7" stroke="#c8c8c8" stroke-width="1" />
<line x1="289.4" y1="293.8" x2="289.4" y2="298" stroke="#c8c8c8" stroke-width="1" />
<line x1="310.8" y1="293.8" x2="310.8" y2="298" stroke="#c8c8c8" stroke-width="1" />
<line x1="332.2" y1="293.8" x2="332.2" y2="298" stroke="#c8c8c8" stroke-width="1" />
<line x1="353.6" y1="293.8" x2="353.6" y2="298" stroke="#c8c8c8" stroke-width="1" />
<line x1="375" y1="293.8" x2="375" y2="298" stroke="#c8c8c8" stroke-width="1" />
<line x1="396.4" y1="293.8" x2="396.4" y2="298" stroke="#c8c8c8" stroke-width="1" />
<line x1="417.8" y1="293.8" x2="417.8" y2="298" stroke="#c8c8c8" stroke-width="1" />
<line x1="439.2" y1="293.8" x2="439.2" y2="298" stroke="#c8c8c8" stroke-width="1" />
<text x="281.3" y="194.6" font-size="12" font-family="Liberation Sans" fill="#1a1a1a" text-anchor="end">200</text>
<text x="281.3" y="229.8" font-size="12" font-family="Liberation Sans" fill="#1a1a1a" text-anchor="end">50</text>
<text x="281.3" y="264.2" font-size="12" font-family="Liberation Sans" fill="#1a1a1a" text-anchor="end">00</text>
<text x="281.3" y="300" font-size="12" font-family="Liberation Sans" fill="#1a1a1a" text-anchor="end">50</text>
<text x="289.4" y="315.9" font-size="12" font-family="Liberation Sans" fill="#1a1a1a" text-anchor="middle">210</text>
<text x="332.2" y="315.9" font-size="12" font-family="Liberation Sans" fill="#1a1a1a" text-anchor="middle">205</text>
<text x="375" y="315.9" font-size="12" font-family="Liberation Sans" fill="#1a1a1a" text-anchor="middle">200</text>
<text x="417.8" y="315.9" font-size="12" font-family="Liberation Sans" fill="#1a1a1a" text-anchor="middle">195</text>
<text x="320" y="333" font-size="10.5" font-family="Liberation Sans" fill="#222" textLength="94" lengthAdjust="spacingAndGlyphs">Binding Energy (eV)</text>
<text x="259.7" y="242.3" font-size="10.1" font-family="Liberation Sans" fill="#222" text-anchor="middle" textLength="45.1" lengthAdjust="spacingAndGlyphs" transform="rotate(-90 259.7 242.3)">Counts / s</text>
<text x="419.4" y="211.3" font-size="9.6" font-family="Liberation Serif" fill="#1e1e1e" textLength="12.1" lengthAdjust="spacingAndGlyphs">(<tspan font-style="italic">e</tspan>)</text>
<path d="M360 283 L412 283.5" fill="none" stroke="#b7ecb0" stroke-width="0.9" stroke-linejoin="round" stroke-linecap="round" />
<path d="M361 282.66 L361.4 282.59 L361.8 282.51 L362.2 282.41 L362.6 282.3 L363 282.16 L363.4 282.01 L363.8 281.83 L364.2 281.62 L364.6 281.38 L365 281.11 L365.4 280.81 L365.8 280.46 L366.2 280.07 L366.6 279.64 L367 279.15 L367.4 278.61 L367.8 278.02 L368.2 277.37 L368.6 276.65 L369 275.88 L369.4 275.04 L369.8 274.14 L370.2 273.17 L370.6 272.14 L371 271.05 L371.4 269.9 L371.8 268.7 L372.2 267.45 L372.6 266.15 L373 264.82 L373.4 263.46 L373.8 262.07 L374.2 260.68 L374.6 259.29 L375 257.9 L375.4 256.55 L375.8 255.22 L376.2 253.95 L376.6 252.73 L377 251.58 L377.4 250.52 L377.8 249.56 L378.2 248.7 L378.6 247.95 L379 247.33 L379.4 246.84 L379.8 246.49 L380.2 246.27 L380.6 246.2 L381 246.27 L381.4 246.49 L381.8 246.84 L382.2 247.33 L382.6 247.95 L383 248.7 L383.4 249.56 L383.8 250.52 L384.2 251.58 L384.6 252.73 L385 253.95 L385.4 255.22 L385.8 256.55 L386.2 257.9 L386.6 259.29 L387 260.68 L387.4 262.07 L387.8 263.46 L388.2 264.82 L388.6 266.15 L389 267.45 L389.4 268.7 L389.8 269.9 L390.2 271.05 L390.6 272.14 L391 273.17 L391.4 274.14 L391.8 275.04 L392.2 275.88 L392.6 276.65 L393 277.37 L393.4 278.02 L393.8 278.61 L394.2 279.15 L394.6 279.64 L395 280.07 L395.4 280.46 L395.8 280.81 L396.2 281.11 L396.6 281.38 L397 281.62 L397.4 281.83 L397.8 282.01 L398.2 282.16 L398.6 282.3 L399 282.41 L399.4 282.51 L399.8 282.59 L400.2 282.66 L400.6 282.72 L401 282.77" fill="none" stroke="#f5dea0" stroke-width="0.8" stroke-linejoin="round" stroke-linecap="round" />
<path d="M376.2 282.35 L376.6 282.2 L377 282.02 L377.4 281.8 L377.8 281.54 L378.2 281.24 L378.6 280.88 L379 280.46 L379.4 279.97 L379.8 279.4 L380.2 278.75 L380.6 278.01 L381 277.16 L381.4 276.2 L381.8 275.12 L382.2 273.91 L382.6 272.57 L383 271.08 L383.4 269.45 L383.8 267.66 L384.2 265.73 L384.6 263.64 L385 261.4 L385.4 259.02 L385.8 256.5 L386.2 253.85 L386.6 251.1 L387 248.24 L387.4 245.32 L387.8 242.34 L388.2 239.33 L388.6 236.32 L389 233.35 L389.4 230.43 L389.8 227.61 L390.2 224.91 L390.6 222.37 L391 220.01 L391.4 217.88 L391.8 216 L392.2 214.39 L392.6 213.07 L393 212.06 L393.4 211.38 L393.8 211.04 L394.2 211.04 L394.6 211.38 L395 212.06 L395.4 213.07 L395.8 214.39 L396.2 216 L396.6 217.88 L397 220.01 L397.4 222.37 L397.8 224.91 L398.2 227.61 L398.6 230.43 L399 233.35 L399.4 236.32 L399.8 239.33 L400.2 242.34 L400.6 245.32 L401 248.24 L401.4 251.1 L401.8 253.85 L402.2 256.5 L402.6 259.02 L403 261.4 L403.4 263.64 L403.8 265.73 L404.2 267.66 L404.6 269.45 L405 271.08 L405.4 272.57 L405.8 273.91 L406.2 275.12 L406.6 276.2 L407 277.16 L407.4 278.01 L407.8 278.75 L408.2 279.4 L408.6 279.97 L409 280.46 L409.4 280.88 L409.8 281.24 L410.2 281.54 L410.6 281.8 L411 282.02 L411.4 282.2 L411.8 282.35" fill="none" stroke="#f5dea0" stroke-width="0.8" stroke-linejoin="round" stroke-linecap="round" />
<path d="M286.6 280.59 L287 280.7 L287.4 280.91 L287.8 280.66 L288.2 280.43 L288.6 281.02 L289 281.62 L289.4 281.23 L289.8 280.86 L290.2 281.22 L290.6 281.58 L291 282.06 L291.4 282.65 L291.8 282.62 L292.2 282.64 L292.6 283.58 L293 284.53 L293.4 284.82 L293.8 285.07 L294.2 285.29 L294.6 285.41 L295 285.62 L295.4 285.66 L295.8 285.3 L296.2 284.68 L296.6 283.74 L297 282.68 L297.4 282.28 L297.8 281.91 L298.2 280.67 L298.6 279.62 L299 279.75 L299.4 280.19 L299.8 280.22 L300.2 280.36 L300.6 280.05 L301 279.8 L301.4 280.45 L301.8 281.13 L302.2 281.82 L302.6 282.49 L303 283.22 L303.4 283.92 L303.8 283.93 L304.2 283.99 L304.6 284.94 L305 285.86 L305.4 286.18 L305.8 286.4 L306.2 287.02 L306.6 287.46 L307 287.44 L307.4 287.22 L307.8 286.6 L308.2 285.89 L308.6 284.84 L309 283.83 L309.4 283.83 L309.8 283.99 L310.2 283.66 L310.6 283.47 L311 283.93 L311.4 284.43 L311.8 284.35 L312.2 284.26 L312.6 284.79 L313 285.28 L313.4 285.41 L313.8 285.42 L314.2 285.04 L314.6 284.51 L315 284.02 L315.4 283.46 L315.8 282.89 L316.2 282.35 L316.6 281.72 L317 281.21 L317.4 280.72 L317.8 280.57 L318.2 281.95 L318.6 283.71 L319 284.57 L319.4 285.41 L319.8 286.09 L320.2 286.34 L320.6 286.65 L321 286.21 L321.4 284.89 L321.8 283.31 L322.2 281.58 L322.6 280.11 L323 279.94 L323.4 280.49 L323.8 280.21 L324.2 280.21 L324.6 281.66 L325 283.12 L325.4 283.56 L325.8 283.76 L326.2 283.58 L326.6 283.19 L327 283.15 L327.4 283.07 L327.8 282.89 L328.2 282.74 L328.6 282.32 L329 281.99 L329.4 282.68 L329.8 283.66 L330.2 284.25 L330.6 284.94 L331 286.01 L331.4 287.01 L331.8 287.47 L332.2 287.68 L332.6 287.67 L333 287.46 L333.4 287.33 L333.8 287.12 L334.2 286.65 L334.6 286.18 L335 285.58 L335.4 285.07 L335.8 284.72 L336.2 284.37 L336.6 284.09 L337 283.83 L337.4 283.84 L337.8 283.89 L338.2 283.85 L338.6 283.88 L339 283.87 L339.4 284.07 L339.8 284.53 L340.2 285.13 L340.6 285.18 L341 285.3 L341.4 286.41 L341.8 287.51 L342.2 287.98 L342.6 288.36 L343 289.29 L343.4 290.06 L343.8 290.22 L344.2 290.04 L344.6 289.27 L345 288.08 L345.4 286.89 L345.8 285.62 L346.2 283.68 L346.6 282 L347 281.65 L347.4 281.88 L347.8 282.16 L348.2 282.85 L348.6 283.64 L349 284.58 L349.4 286.45 L349.8 288.2 L350.2 288.35 L350.6 288.12 L351 288.5 L351.4 288.74 L351.8 288.63 L352.2 288.45 L352.6 288.21 L353 287.92 L353.4 287.86 L353.8 287.7 L354.2 286.43 L354.6 284.8 L355 283.63 L355.4 282.48 L355.8 280.82 L356.2 279.57 L356.6 279.55 L357 280.23 L357.4 280.96 L357.8 281.88 L358.2 283.35 L358.6 284.43 L359 284.3 L359.4 283.78 L359.8 283.48 L360.2 283.04 L360.6 281.72 L361 280.45 L361.4 280.16 L361.8 280.09 L362.2 279.99 L362.6 279.9 L363 279.49 L363.4 279.09 L363.8 279.09 L364.2 279.06 L364.6 278.86 L365 278.61 L365.4 278.31 L365.8 277.91 L366.2 277.36 L366.6 276.72 L367 276.02 L367.4 275.27 L367.8 274.58 L368.2 273.85 L368.6 272.82 L369 271.78 L369.4 270.99 L369.8 270.21 L370.2 269.32 L370.6 268.37 L371 267.39 L371.4 266.36 L371.8 265.23 L372.2 264.06 L372.6 262.84 L373 261.6 L373.4 260.66 L373.8 259.73 L374.2 258.51 L374.6 257.33 L375 256.36 L375.4 255.36 L375.8 254.27 L376.2 253.19 L376.6 252.02 L377 250.89 L377.4 249.77 L377.8 248.73 L378.2 247.96 L378.6 247.31 L379 246.52 L379.4 245.79 L379.8 245.17 L380.2 244.52 L380.6 243.87 L381 243.16 L381.4 242.38 L381.8 241.57 L382.2 240.72 L382.6 239.84 L383 238.89 L383.4 237.9 L383.8 236.89 L384.2 235.84 L384.6 234.87 L385 233.87 L385.4 232.64 L385.8 231.31 L386.2 230.04 L386.6 228.71 L387 227.12 L387.4 225.51 L387.8 224.08 L388.2 222.68 L388.6 221.49 L389 220.38 L389.4 218.92 L389.8 217.36 L390.2 215.96 L390.6 214.58 L391 213.13 L391.4 211.81 L391.8 210.93 L392.2 210.28 L392.6 209.66 L393 209.33 L393.4 209.12 L393.8 208.94 L394.2 208.94 L394.6 209.23 L395 210.35 L395.4 212.04 L395.8 213.9 L396.2 215.95 L396.6 217.84 L397 219.97 L397.4 222.99 L397.8 226.32 L398.2 229.32 L398.6 232.27 L399 235.31 L399.4 238.26 L399.8 241.14 L400.2 244 L400.6 246.88 L401 249.7 L401.4 252.23 L401.8 254.67 L402.2 257.34 L402.6 260.05 L403 262.46 L403.4 264.81 L403.8 267.28 L404.2 269.56 L404.6 271.54 L405 273.2 L405.4 274.54 L405.8 275.81 L406.2 276.94 L406.6 277.99 L407 279.25 L407.4 280.41 L407.8 281.24 L408.2 281.88 L408.6 282.76 L409 283.53 L409.4 284.06 L409.8 284.46 L410.2 284.01 L410.6 283.45 L411 283.77 L411.4 284.07 L411.8 284.05 L412.2 284.01 L412.6 284.14 L413 284.26 L413.4 283.9 L413.8 283.55 L414.2 283.46 L414.6 283.38 L415 283.45 L415.4 283.54 L415.8 283.05 L416.2 282.68 L416.6 283.5 L417 284.44 L417.4 284.69 L417.8 285 L418.2 285.63 L418.6 286.27 L419 286.47 L419.4 286.65 L419.8 287.45 L420.2 288.17 L420.6 288.41 L421 288.51 L421.4 288.38 L421.8 288.04 L422.2 288.25 L422.6 288.32 L423 287.62 L423.4 286.87 L423.8 285.88 L424.2 284.94 L424.6 284.11 L425 283.42 L425.4 283.85 L425.8 284.29 L426.2 283.31 L426.6 282.36 L427 282.43 L427.4 282.53 L427.8 282.42 L428.2 282.36 L428.6 282.54 L429 282.9 L429.4 283.26 L429.8 283.88 L430.2 284.76 L430.6 285.65 L431 286.37 L431.4 286.84 L431.8 287.49 L432.2 288.11 L432.6 288.21 L433 288.3 L433.4 288.13 L433.8 287.94 L434.2 288.44 L434.6 288.92 L435 289.15 L435.4 289.35 L435.8 289.03 L436.2 288.68 L436.6 288.33 L437 287.93 L437.4 287.8 L437.8 287.65 L438.2 288.22 L438.6 288.8 L439 288.07 L439.4 287.38 L439.8 287.81 L440.2 288.34 L440.6 288.06 L441 287.9 L441.4 288.34 L441.8 288.82 L442.2 289.21 L442.6 289.55 L443 290.38 L443.4 291.08 L443.8 290.49 L444.2 289.66 L444.6 289.49 L445 289.17 L445.4 288.69 L445.8 288.15 L446.2 287.1 L446.6 286.08 L447 284.95 L447.4 283.94 L447.8 283.53 L448.2 283.34 L448.6 284.03 L449 284.89 L449.4 284.8 L449.8 284.79 L450.2 285.06 L450.6 285.33 L451 286.08 L451.4 286.74 L451.8 287.12 L452.2 287.35 L452.6 286.94 L453 286.49 L453.4 286.26 L453.8 285.99 L454.2 285.86 L454.6 285.69 L455 285.66 L455.4 285.58 L455.8 285.46 L456.2 285.28 L456.6 284.25" fill="none" stroke="#f4aebf" stroke-width="0.75" stroke-linejoin="round" stroke-linecap="round" />
<path d="M286.6 281 L287 280.91 L287.4 280.91 L287.8 280.93 L288.2 280.97 L288.6 281.03 L289 281.11 L289.4 281.19 L289.8 281.29 L290.2 281.39 L290.6 281.5 L291 281.68 L291.4 281.97 L291.8 282.36 L292.2 282.8 L292.6 283.29 L293 283.78 L293.4 284.26 L293.8 284.7 L294.2 285.06 L294.6 285.33 L295 285.48 L295.4 285.46 L295.8 285.13 L296.2 284.55 L296.6 283.78 L297 282.91 L297.4 281.99 L297.8 281.12 L298.2 280.35 L298.6 279.77 L299 279.44 L299.4 279.42 L299.8 279.55 L300.2 279.8 L300.6 280.14 L301 280.56 L301.4 281.02 L301.8 281.52 L302.2 282.03 L302.6 282.52 L303 282.99 L303.4 283.42 L303.8 283.93 L304.2 284.51 L304.6 285.1 L305 285.68 L305.4 286.2 L305.8 286.62 L306.2 286.9 L306.6 287 L307 286.87 L307.4 286.54 L307.8 286.05 L308.2 285.47 L308.6 284.88 L309 284.32 L309.4 283.86 L309.8 283.57 L310.2 283.5 L310.6 283.57 L311 283.71 L311.4 283.89 L311.8 284.1 L312.2 284.31 L312.6 284.49 L313 284.63 L313.4 284.7 L313.8 284.64 L314.2 284.39 L314.6 284 L315 283.5 L315.4 282.94 L315.8 282.38 L316.2 281.84 L316.6 281.39 L317 281.06 L317.4 280.91 L317.8 281.09 L318.2 281.82 L318.6 282.93 L319 284.21 L319.4 285.47 L319.8 286.5 L320.2 287.11 L320.6 287.09 L321 286.31 L321.4 285.01 L321.8 283.45 L322.2 281.89 L322.6 280.59 L323 279.81 L323.4 279.76 L323.8 280.15 L324.2 280.83 L324.6 281.64 L325 282.48 L325.4 283.2 L325.8 283.68 L326.2 283.8 L326.6 283.71 L327 283.53 L327.4 283.29 L327.8 283.05 L328.2 282.82 L328.6 282.66 L329 282.6 L329.4 282.78 L329.8 283.24 L330.2 283.91 L330.6 284.7 L331 285.5 L331.4 286.24 L331.8 286.82 L332.2 287.15 L332.6 287.18 L333 287.01 L333.4 286.71 L333.8 286.33 L334.2 285.9 L334.6 285.49 L335 285.12 L335.4 284.84 L335.8 284.58 L336.2 284.31 L336.6 284.04 L337 283.79 L337.4 283.57 L337.8 283.39 L338.2 283.26 L338.6 283.2 L339 283.27 L339.4 283.54 L339.8 284 L340.2 284.59 L340.6 285.29 L341 286.06 L341.4 286.85 L341.8 287.63 L342.2 288.37 L342.6 289.02 L343 289.55 L343.4 289.92 L343.8 290.09 L344.2 289.91 L344.6 289.16 L345 287.98 L345.4 286.56 L345.8 285.04 L346.2 283.62 L346.6 282.44 L347 281.69 L347.4 281.52 L347.8 281.91 L348.2 282.72 L348.6 283.8 L349 285.04 L349.4 286.3 L349.8 287.43 L350.2 288.32 L350.6 288.83 L351 288.89 L351.4 288.8 L351.8 288.63 L352.2 288.39 L352.6 288.1 L353 287.76 L353.4 287.39 L353.8 286.93 L354.2 286 L354.6 284.72 L355 283.28 L355.4 281.86 L355.8 280.67 L356.2 279.9 L356.6 279.73 L357 280.26 L357.4 281.26 L357.8 282.45 L358.2 283.52 L358.6 284.2 L359 284.25 L359.4 283.91 L359.8 283.32 L360.2 282.58 L360.6 281.8 L361 281.07 L361.4 280.5 L361.8 280.15 L362.2 279.89 L362.6 279.68 L363 279.49 L363.4 279.33 L363.8 279.16 L364.2 278.99 L364.6 278.78 L365 278.53 L365.4 278.21 L365.8 277.8 L366.2 277.29 L366.6 276.69 L367 276.01 L367.4 275.27 L367.8 274.47 L368.2 273.63 L368.6 272.76 L369 271.88 L369.4 271 L369.8 270.12 L370.2 269.23 L370.6 268.29 L371 267.29 L371.4 266.25 L371.8 265.18 L372.2 264.08 L372.6 262.96 L373 261.83 L373.4 260.71 L373.8 259.6 L374.2 258.5 L374.6 257.43 L375 256.34 L375.4 255.22 L375.8 254.09 L376.2 252.95 L376.6 251.84 L377 250.76 L377.4 249.73 L377.8 248.77 L378.2 247.9 L378.6 247.14 L379 246.46 L379.4 245.85 L379.8 245.24 L380.2 244.61 L380.6 243.9 L381 243.13 L381.4 242.33 L381.8 241.5 L382.2 240.64 L382.6 239.75 L383 238.83 L383.4 237.88 L383.8 236.9 L384.2 235.88 L384.6 234.83 L385 233.75 L385.4 232.63 L385.8 231.39 L386.2 230.06 L386.6 228.66 L387 227.21 L387.4 225.74 L387.8 224.28 L388.2 222.86 L388.6 221.49 L389 220.2 L389.4 218.9 L389.8 217.49 L390.2 216.05 L390.6 214.62 L391 213.26 L391.4 212.02 L391.8 210.97 L392.2 210.15 L392.6 209.63 L393 209.42 L393.4 209.27 L393.8 209.16 L394.2 209.1 L394.6 209.34 L395 210.3 L395.4 211.83 L395.8 213.74 L396.2 215.82 L396.6 217.9 L397 220.21 L397.4 223 L397.8 226.1 L398.2 229.32 L398.6 232.48 L399 235.41 L399.4 238.27 L399.8 241.14 L400.2 243.99 L400.6 246.8 L401 249.56 L401.4 252.25 L401.8 254.84 L402.2 257.35 L402.6 259.89 L403 262.43 L403.4 264.92 L403.8 267.28 L404.2 269.45 L404.6 271.38 L405 273 L405.4 274.42 L405.8 275.77 L406.2 277.04 L406.6 278.23 L407 279.33 L407.4 280.33 L407.8 281.22 L408.2 281.99 L408.6 282.63 L409 283.16 L409.4 283.65 L409.8 284.01 L410.2 284.1 L410.6 284.08 L411 284.03 L411.4 283.96 L411.8 283.88 L412.2 283.78 L412.6 283.68 L413 283.57 L413.4 283.47 L413.8 283.37 L414.2 283.28 L414.6 283.2 L415 283.14 L415.4 283.11 L415.8 283.11 L416.2 283.23 L416.6 283.49 L417 283.87 L417.4 284.33 L417.8 284.87 L418.2 285.45 L418.6 286.05 L419 286.64 L419.4 287.2 L419.8 287.71 L420.2 288.14 L420.6 288.46 L421 288.65 L421.4 288.69 L421.8 288.51 L422.2 288.14 L422.6 287.61 L423 286.99 L423.4 286.31 L423.8 285.64 L424.2 285.01 L424.6 284.48 L425 284.1 L425.4 283.81 L425.8 283.51 L426.2 283.23 L426.6 282.97 L427 282.73 L427.4 282.52 L427.8 282.36 L428.2 282.25 L428.6 282.2 L429 282.33 L429.4 282.85 L429.8 283.63 L430.2 284.56 L430.6 285.48 L431 286.28 L431.4 286.82 L431.8 287.09 L432.2 287.34 L432.6 287.57 L433 287.79 L433.4 287.99 L433.8 288.17 L434.2 288.32 L434.6 288.45 L435 288.56 L435.4 288.64 L435.8 288.68 L436.2 288.7 L436.6 288.67 L437 288.59 L437.4 288.48 L437.8 288.34 L438.2 288.2 L438.6 288.06 L439 287.93 L439.4 287.84 L439.8 287.8 L440.2 287.85 L440.6 288.06 L441 288.4 L441.4 288.81 L441.8 289.26 L442.2 289.7 L442.6 290.1 L443 290.4 L443.4 290.58 L443.8 290.57 L444.2 290.31 L444.6 289.84 L445 289.21 L445.4 288.47 L445.8 287.66 L446.2 286.83 L446.6 286.04 L447 285.32 L447.4 284.72 L447.8 284.31 L448.2 284.11 L448.6 284.15 L449 284.36 L449.4 284.7 L449.8 285.11 L450.2 285.56 L450.6 286 L451 286.4 L451.4 286.7 L451.8 286.88 L452.2 286.9 L452.6 286.87 L453 286.81 L453.4 286.71 L453.8 286.58 L454.2 286.41 L454.6 286.19 L455 285.93 L455.4 285.62 L455.8 285.25 L456.2 284.84 L456.6 284.36" fill="none" stroke="#aea8f5" stroke-width="0.75" stroke-linejoin="round" stroke-linecap="round" />
<line x1="393" y1="208.6" x2="400.8" y2="202.1" stroke="#111" stroke-width="1.3" />
<line x1="380.3" y1="243.6" x2="386.8" y2="236.6" stroke="#111" stroke-width="1.3" />
<text x="365.8" y="204" font-size="9" font-family="Liberation Sans" fill="#222" textLength="34.6" lengthAdjust="spacingAndGlyphs">Cl2p, 3/2</text>
<text x="352" y="238.4" font-size="9" font-family="Liberation Sans" fill="#222" textLength="33.9" lengthAdjust="spacingAndGlyphs">Cl2p, 1/2</text>
<line x1="73.4" y1="581.08" x2="649.3" y2="581.08" stroke="#d2d2d2" stroke-width="1.1" />
<line x1="73.4" y1="563.73" x2="649.3" y2="563.73" stroke="#d2d2d2" stroke-width="1.1" />
<line x1="73.4" y1="546.38" x2="649.3" y2="546.38" stroke="#d2d2d2" stroke-width="1.1" />
<line x1="73.4" y1="529.03" x2="649.3" y2="529.03" stroke="#d2d2d2" stroke-width="1.1" />
<line x1="73.4" y1="511.68" x2="649.3" y2="511.68" stroke="#d2d2d2" stroke-width="1.1" />
<line x1="73.4" y1="494.33" x2="649.3" y2="494.33" stroke="#d2d2d2" stroke-width="1.1" />
<line x1="73.4" y1="476.98" x2="649.3" y2="476.98" stroke="#d2d2d2" stroke-width="1.1" />
<line x1="73.4" y1="459.63" x2="649.3" y2="459.63" stroke="#d2d2d2" stroke-width="1.1" />
<line x1="73.4" y1="442.28" x2="649.3" y2="442.28" stroke="#d2d2d2" stroke-width="1.1" />
<line x1="73.4" y1="424.93" x2="649.3" y2="424.93" stroke="#d2d2d2" stroke-width="1.1" />
<line x1="73.4" y1="407.58" x2="649.3" y2="407.58" stroke="#d2d2d2" stroke-width="1.1" />
<line x1="73.4" y1="390.23" x2="649.3" y2="390.23" stroke="#d2d2d2" stroke-width="1.1" />
<line x1="73.4" y1="372.88" x2="649.3" y2="372.88" stroke="#d2d2d2" stroke-width="1.1" />
<line x1="76" y1="575.3" x2="649.3" y2="575.3" stroke="#c4c4c4" stroke-width="1.1" />
<line x1="76" y1="372.88" x2="76" y2="581.08" stroke="#d2d2d2" stroke-width="1.1" />
<line x1="137.61" y1="372.88" x2="137.61" y2="581.08" stroke="#d2d2d2" stroke-width="1.1" />
<line x1="199.22" y1="372.88" x2="199.22" y2="581.08" stroke="#d2d2d2" stroke-width="1.1" />
<line x1="260.84" y1="372.88" x2="260.84" y2="581.08" stroke="#d2d2d2" stroke-width="1.1" />
<line x1="322.45" y1="372.88" x2="322.45" y2="581.08" stroke="#d2d2d2" stroke-width="1.1" />
<line x1="384.06" y1="372.88" x2="384.06" y2="581.08" stroke="#d2d2d2" stroke-width="1.1" />
<line x1="445.68" y1="372.88" x2="445.68" y2="581.08" stroke="#d2d2d2" stroke-width="1.1" />
<line x1="507.29" y1="372.88" x2="507.29" y2="581.08" stroke="#d2d2d2" stroke-width="1.1" />
<line x1="568.9" y1="372.88" x2="568.9" y2="581.08" stroke="#d2d2d2" stroke-width="1.1" />
<line x1="630.51" y1="372.88" x2="630.51" y2="581.08" stroke="#d2d2d2" stroke-width="1.1" />
<text x="67.4" y="584.48" font-size="9.4" font-family="Liberation Sans" fill="#595959" text-anchor="end" textLength="22.6" lengthAdjust="spacingAndGlyphs">-1000</text>
<text x="67.4" y="567.13" font-size="9.4" font-family="Liberation Sans" fill="#595959" text-anchor="end" textLength="19.4" lengthAdjust="spacingAndGlyphs">2000</text>
<text x="67.4" y="549.78" font-size="9.4" font-family="Liberation Sans" fill="#595959" text-anchor="end" textLength="19.4" lengthAdjust="spacingAndGlyphs">5000</text>
<text x="67.4" y="532.43" font-size="9.4" font-family="Liberation Sans" fill="#595959" text-anchor="end" textLength="19.4" lengthAdjust="spacingAndGlyphs">8000</text>
<text x="67.4" y="515.08" font-size="9.4" font-family="Liberation Sans" fill="#595959" text-anchor="end" textLength="24.4" lengthAdjust="spacingAndGlyphs">11000</text>
<text x="67.4" y="497.73" font-size="9.4" font-family="Liberation Sans" fill="#595959" text-anchor="end" textLength="24.4" lengthAdjust="spacingAndGlyphs">14000</text>
<text x="67.4" y="480.38" font-size="9.4" font-family="Liberation Sans" fill="#595959" text-anchor="end" textLength="24.4" lengthAdjust="spacingAndGlyphs">17000</text>
<text x="67.4" y="463.03" font-size="9.4" font-family="Liberation Sans" fill="#595959" text-anchor="end" textLength="24.4" lengthAdjust="spacingAndGlyphs">20000</text>
<text x="67.4" y="445.68" font-size="9.4" font-family="Liberation Sans" fill="#595959" text-anchor="end" textLength="24.4" lengthAdjust="spacingAndGlyphs">23000</text>
<text x="67.4" y="428.33" font-size="9.4" font-family="Liberation Sans" fill="#595959" text-anchor="end" textLength="24.4" lengthAdjust="spacingAndGlyphs">26000</text>
<text x="67.4" y="410.98" font-size="9.4" font-family="Liberation Sans" fill="#595959" text-anchor="end" textLength="24.4" lengthAdjust="spacingAndGlyphs">29000</text>
<text x="67.4" y="393.63" font-size="9.4" font-family="Liberation Sans" fill="#595959" text-anchor="end" textLength="24.4" lengthAdjust="spacingAndGlyphs">32000</text>
<text x="67.4" y="376.28" font-size="9.4" font-family="Liberation Sans" fill="#595959" text-anchor="end" textLength="24.4" lengthAdjust="spacingAndGlyphs">35000</text>
<text x="76" y="591.3" font-size="9.4" font-family="Liberation Sans" fill="#595959" text-anchor="middle" textLength="4.4" lengthAdjust="spacingAndGlyphs">0</text>
<text x="137.61" y="591.3" font-size="9.4" font-family="Liberation Sans" fill="#595959" text-anchor="middle" textLength="13.9" lengthAdjust="spacingAndGlyphs">150</text>
<text x="199.22" y="591.3" font-size="9.4" font-family="Liberation Sans" fill="#595959" text-anchor="middle" textLength="13.9" lengthAdjust="spacingAndGlyphs">300</text>
<text x="260.84" y="591.3" font-size="9.4" font-family="Liberation Sans" fill="#595959" text-anchor="middle" textLength="13.9" lengthAdjust="spacingAndGlyphs">450</text>
<text x="322.45" y="591.3" font-size="9.4" font-family="Liberation Sans" fill="#595959" text-anchor="middle" textLength="13.9" lengthAdjust="spacingAndGlyphs">600</text>
<text x="384.06" y="591.3" font-size="9.4" font-family="Liberation Sans" fill="#595959" text-anchor="middle" textLength="13.9" lengthAdjust="spacingAndGlyphs">750</text>
<text x="445.68" y="591.3" font-size="9.4" font-family="Liberation Sans" fill="#595959" text-anchor="middle" textLength="13.9" lengthAdjust="spacingAndGlyphs">900</text>
<text x="507.29" y="591.3" font-size="9.4" font-family="Liberation Sans" fill="#595959" text-anchor="middle" textLength="19.6" lengthAdjust="spacingAndGlyphs">1050</text>
<text x="568.9" y="591.3" font-size="9.4" font-family="Liberation Sans" fill="#595959" text-anchor="middle" textLength="19.6" lengthAdjust="spacingAndGlyphs">1200</text>
<text x="630.51" y="591.3" font-size="9.4" font-family="Liberation Sans" fill="#595959" text-anchor="middle" textLength="19.6" lengthAdjust="spacingAndGlyphs">1350</text>
<text x="501.3" y="361.5" font-size="15" font-family="Liberation Sans" fill="#3a3a3a" textLength="15.2" lengthAdjust="spacingAndGlyphs">(f)</text>
<text x="34.2" y="477.5" font-size="17.2" font-family="Liberation Sans" fill="#111" text-anchor="middle" textLength="113" lengthAdjust="spacingAndGlyphs" transform="rotate(-90 34.2 477.5)">Intensity (a.u.)</text>
<text x="254" y="615.8" font-size="22" font-family="Liberation Serif" fill="#111" textLength="177.9" lengthAdjust="spacingAndGlyphs">Binding Energy (eV)</text>
<path d="M76.5 574.63 L77.8 568.26 L79.3 572.42 L80.22 572.2 L81.15 572.77 L82.08 571.5 L83 571.39 L83.95 571.11 L84.9 570.02 L85.85 569.91 L86.8 568.28 L87.7 569.71 L88.6 571.6 L89.48 570.71 L90.36 571.76 L91.24 570.63 L92.12 570.48 L93 570.83 L93.82 569.51 L94.63 570.06 L95.45 570.03 L96.27 568.74 L97.08 569.47 L97.9 568.35 L98.83 569.04 L99.77 568.74 L100.7 568.87 L101.63 568.88 L102.57 568.66 L103.5 569.27 L104.3 570.66 L105.1 569.82 L105.9 569.67 L106.7 570.43 L107.5 569.88 L108.3 570.53 L109.1 569.39 L109.9 569.12 L110.7 570.36 L111.5 568.98 L112.3 570.09 L113.1 569.71 L113.9 570.39 L114.7 570.3 L115.5 569.77 L116.3 568.62 L117.1 568.58 L117.9 569.37 L118.7 569.97 L119.5 568.62 L120.3 569.22 L121.1 568.58 L121.9 568.96 L122.7 568.4 L123.5 568.96 L124.3 569.28 L125.1 568.68 L125.9 569.72 L126.71 568.42 L127.51 568.71 L128.32 568.81 L129.12 569.09 L129.93 569.76 L130.73 569.03 L131.54 569.66 L132.34 570.09 L133.15 568.68 L133.95 570.02 L134.76 569.56 L135.56 569.84 L136.37 569.61 L137.18 569.26 L137.98 568.72 L138.79 568.82 L139.59 568.89 L140.4 568.91 L141.2 568.87 L142.01 569 L142.81 569.65 L143.62 570.04 L144.42 570.11 L145.23 570.21 L146.04 568.92 L146.84 570.2 L147.65 569.07 L148.45 568.88 L149.26 569.29 L150.06 569.84 L150.87 568.89 L151.67 569.21 L152.48 569.55 L153.28 570.33 L154.09 569.59 L154.89 569.78 L155.7 569.8 L157 560.6 L158.5 569.8 L159.34 569.65 L160.18 569.35 L161.02 569.12 L161.86 568.47 L162.7 569.73 L163.54 569.66 L164.38 569.15 L165.22 568.42 L166.06 568.35 L166.9 567.96 L167.74 568.58 L168.58 568.58 L169.41 567.96 L170.25 568.97 L171.09 568.7 L171.93 567.79 L172.77 568.86 L173.6 568.61 L174.44 567.85 L175.28 567.93 L176.12 568.75 L176.96 567.54 L177.8 568.19 L178.63 569.13 L179.47 567.86 L180.31 568.31 L181.15 569.03 L181.99 568.97 L182.82 568.82 L183.66 568.36 L184.5 569.07 L185.45 566.26 L186.4 565.79 L187.33 565.8 L188.27 567.12 L189.2 567.9 L190.13 566.57 L191.07 566.23 L192 565.5 L192.8 520 L193.5 469.3 L194.3 520 L195.2 566.5 L196.5 562.32 L197.33 560.19 L198.17 558.88 L199 556.3 L199.86 554.53 L200.72 553.06 L201.58 552.62 L202.44 550.28 L203.3 549.5 L204.23 549.62 L205.15 550.19 L206.07 548.87 L207 549.8 L207.93 549.21 L208.85 550.35 L209.77 550.68 L210.7 551.14 L211.53 550.79 L212.37 549.08 L213.2 549 L214.3 530 L215.2 515.8 L216.2 523 L217 523.8 L218.2 534.65 L219.5 538.72 L220.5 539.42 L221.4 538.86 L222.3 539.58 L223.2 538.58 L224.1 539.1 L225 539.71 L225.81 539.85 L226.62 538.81 L227.44 539.93 L228.25 539.32 L229.06 538.9 L229.87 539.88 L230.68 539.87 L231.49 539.39 L232.31 539.51 L233.12 539.67 L233.93 539.7 L234.74 539.95 L235.55 539.96 L236.36 538.94 L237.18 538.63 L237.99 539.49 L238.8 539.5 L239.6 530 L240.4 518.1 L241.3 530 L242.2 539.2 L243.01 538.46 L243.82 538.8 L244.63 539.26 L245.44 539.92 L246.25 538.91 L247.05 538.8 L247.86 539.11 L248.67 539.79 L249.48 539.11 L250.29 538.56 L251.1 539.36 L251.91 539.76 L252.72 539.37 L253.53 538.64 L254.34 538.2 L255.15 538.69 L255.95 538.07 L256.76 538.04 L257.57 538.59 L258.38 539.28 L259.19 538.99 L260 538.45 L260.8 539.44 L261.6 538.07 L262.4 538.22 L263.2 538.29 L264 538.85 L264.8 539.45 L265.6 538.56 L266.4 539.38 L267.2 539.6 L268 538.8 L268.8 539.57 L269.6 539.59 L270.4 538.87 L271.2 538.34 L272 538.19 L272.8 538.52 L273.6 538.94 L274.4 538.16 L275.2 538.75 L276 539.07 L276.8 538.81 L277.6 539.55 L278.4 539.28 L279.2 539.24 L280 539.44 L280.81 539.33 L281.63 539.01 L282.44 538.54 L283.25 539.28 L284.07 538.29 L284.88 538.25 L285.69 538.78 L286.51 538.55 L287.32 539.48 L288.13 538.39 L288.95 538.87 L289.76 539.31 L290.57 538.79 L291.39 539.47 L292.2 538.9 L293.2 520 L293.9 420 L294.3 375 L294.8 420 L295.6 500 L296.8 525.81 L297.65 524.66 L298.5 523.6 L299.33 520.42 L300.17 517.46 L301 513.34 L302 511.13 L303 508.44 L304 505.34 L304.85 504.52 L305.7 501.73 L306.55 501.87 L307.4 500.79 L308.27 502.25 L309.13 502 L310 503.09 L310.84 505.09 L311.68 505.36 L312.52 504.83 L313.36 506.9 L314.2 507.08 L315.02 506.99 L315.85 507.45 L316.67 507.25 L317.5 506.79 L318.32 506.3 L319.14 507.07 L319.97 507.83 L320.79 507 L321.62 507.12 L322.44 507.1 L323.26 508.09 L324.09 509.26 L324.91 508.88 L325.74 507.43 L326.56 508.37 L327.38 509.18 L328.21 508.03 L329.03 509.7 L329.86 508.6 L330.68 509.2 L331.5 510.1 L332.33 510.42 L333.15 508.8 L333.98 510.56 L334.8 510.83 L335.61 510.75 L336.43 510.62 L337.24 509.74 L338.05 509.62 L338.87 509.03 L339.68 509.81 L340.49 509.61 L341.31 509.3 L342.12 511.04 L342.93 510.9 L343.75 510.75 L344.56 509.63 L345.37 509.26 L346.19 509.93 L347 509.16 L347.81 509.78 L348.63 510.35 L349.44 509.72 L350.25 509.76 L351.07 509.75 L351.88 510.86 L352.69 509.12 L353.51 510.84 L354.32 510.4 L355.13 510.27 L355.95 510.6 L356.76 509.12 L357.57 510.99 L358.39 509.73 L359.2 509.98 L360.01 510.36 L360.82 511.35 L361.64 510 L362.45 510.79 L363.26 511.95 L364.07 510.37 L364.88 511.46 L365.7 510.53 L366.51 511.55 L367.32 511.39 L368.13 511.81 L368.95 510.76 L369.76 511.28 L370.57 512.95 L371.38 511.5 L372.19 511.89 L373.01 513.54 L373.82 512.06 L374.63 512.91 L375.44 512.71 L376.25 511.91 L377.07 513.45 L377.88 513.27 L378.69 514.36 L379.5 514.58 L380.32 512.73 L381.13 513.99 L381.94 513.58 L382.75 513.26 L383.56 515.12 L384.38 513.43 L385.19 514.47 L386 514.01 L386.81 514.85 L387.62 514.15 L388.44 515.66 L389.25 514.84 L390.06 514.41 L390.87 515.83 L391.68 514.45 L392.49 515.88 L393.31 514.89 L394.12 516.29 L394.93 515.1 L395.74 516.06 L396.55 516.2 L397.36 515.93 L398.18 516.83 L398.99 516.2 L399.8 515.62 L400.61 516.35 L401.42 516.8 L402.24 516.31 L403.05 516.63 L403.86 515.73 L404.67 516.22 L405.48 517.45 L406.29 516.59 L407.11 516.36 L407.92 517.79 L408.73 516.2 L409.54 516.31 L410.35 516.46 L411.16 516.83 L411.98 516.62 L412.79 517.25 L413.6 517.29 L414.41 518.82 L415.22 517.45 L416.04 518.25 L416.85 517.73 L417.66 518.77 L418.47 517.52 L419.28 518.12 L420.09 517.77 L420.91 518.22 L421.72 518.21 L422.53 518.73 L423.34 519.91 L424.15 517.98 L424.96 518.53 L425.78 519.45 L426.59 520.04 L427.4 519.14 L428.23 519.17 L429.06 519.15 L429.9 519.36 L430.73 519.79 L431.56 520.4 L432.39 518.81 L433.22 519.23 L434.05 519.41 L434.89 520.36 L435.72 520.75 L436.55 519.31 L437.38 519.23 L438.21 519.56 L439.05 520.34 L439.88 520.98 L440.71 521.68 L441.54 520.43 L442.37 520.62 L443.2 521.7 L444.04 521.53 L444.87 521.91 L445.7 520.58 L446.5 521.61 L447.3 521.86 L448.1 520.72 L448.9 520.7 L449.7 522.25 L450.5 520.73 L451.3 521 L452.1 520.55 L452.9 522.29 L453.7 521.77 L454.5 520.98 L455.3 521.46 L456.1 521.51 L456.9 520.61 L457.7 522.25 L458.5 520.82 L459.3 521.53 L460.1 522.35 L460.9 521.39 L461.7 522.49 L462.5 522.84 L463.3 522.44 L464.1 521.87 L464.9 523.02 L465.7 521.72 L466.5 523.25 L467.3 522.43 L468.1 522.31 L468.9 523.1 L469.7 521.45 L470.5 521.98 L471.3 522.9 L472.4 518.42 L473.5 516.77 L474.55 509.92 L475.6 504 L476.45 497.35 L477.3 490.7 L478.15 494.35 L479 498 L479.83 500.42 L480.67 504.06 L481.5 504.3 L482.33 502.38 L483.17 501.92 L484 500.32 L485.2 499.27 L486.4 496.06 L487.26 498.44 L488.12 498.62 L488.98 499.15 L489.84 498.53 L490.7 501.12 L491.55 499.95 L492.39 501.26 L493.24 502.27 L494.08 500.14 L494.93 501.37 L495.77 502.82 L496.62 501.48 L497.46 503.03 L498.31 503.21 L499.15 503.13 L500 504.1 L500.88 503.53 L501.75 502.23 L502.62 504.13 L503.5 504.05 L504.38 503.31 L505.25 502.76 L506.12 503.31 L507 504.06 L507.81 503.47 L508.62 505.31 L509.44 503.39 L510.25 503.74 L511.06 503.45 L511.88 505.02 L512.69 505.28 L513.5 503.97 L514.31 504.38 L515.12 505.64 L515.94 505.01 L516.75 504.17 L517.56 506.11 L518.38 505.64 L519.19 504.6 L520 505.01 L520.81 505.2 L521.62 505.6 L522.44 505.25 L523.25 504.57 L524.06 505.08 L524.88 504.67 L525.69 505.64 L526.5 505.97 L527.31 505.76 L528.12 504.29 L528.93 505.27 L529.74 505.62 L530.56 504.93 L531.37 504.18 L532.18 505.06 L532.99 503.95 L533.8 504.7 L534.62 502.92 L535.43 503.2 L536.25 504.18 L537.07 503.38 L537.88 503.74 L538.7 505.61 L539.52 505.33 L540.33 504.27 L541.15 503.92 L541.97 505.5 L542.78 505.54 L543.6 504.35 L544.42 505.36 L545.23 505.66 L546.05 504.43 L546.87 504.58 L547.68 504.47 L548.5 506.51 L549.33 503.98 L550.17 502.84 L551 500.9 L551.93 499.43 L552.87 496.87 L553.8 494.3 L554.7 495.87 L555.6 497.43 L556.5 499.36 L557.47 498.87 L558.43 500.03 L559.4 500.04 L560.25 500.03 L561.09 499.39 L561.94 499.81 L562.78 500.77 L563.63 500.74 L564.48 500.59 L565.32 500.39 L566.17 500.22 L567.02 499.8 L567.86 499.67 L568.71 499.78 L569.55 500.12 L570.4 499.39 L571.3 497.15 L572.2 495.31 L573.1 493.37 L574 490.66 L574.83 486.2 L575.67 483.72 L576.5 479.72 L577.7 475.53 L578.9 470.95 L579.95 474.31 L581 477.46 L581.93 476.85 L582.87 478.4 L583.8 476.95 L584.7 476.65 L585.6 477.86 L586.5 476.2 L587.4 475.53 L588.21 474.31 L589.03 475.66 L589.84 474.78 L590.65 474.48 L591.47 474.5 L592.28 474.72 L593.09 474.62 L593.91 475.73 L594.72 477.42 L595.53 476.54 L596.35 476.15 L597.16 477.17 L597.97 478.23 L598.79 476.27 L599.6 478.54 L600.5 477.22 L601.4 473.68 L602.3 471.23 L603.2 471.68 L604.07 472.28 L604.94 470.36 L605.81 470.03 L606.69 469.63 L607.56 469.11 L608.43 470.68 L609.3 469.33 L610.22 468.64 L611.15 464.21 L612.08 460.56 L613 459.53 L614.2 462.94 L615.4 462.61 L616.27 464.09 L617.14 461.89 L618.01 461.01 L618.89 460.37 L619.76 457.88 L620.63 456.63 L621.5 454.16 L622.35 453.58 L623.19 452.59 L624.04 450.24 L624.88 449.34 L625.73 447.91 L626.57 447.29 L627.42 444.97 L628.26 444.52 L629.11 441.88 L629.95 441.21 L630.8 439.5" fill="none" stroke="#f26a23" stroke-width="2.4" stroke-linejoin="round" stroke-linecap="round" />
<line x1="108.3" y1="511.4" x2="140.82" y2="546.19" stroke="#22bdea" stroke-width="2.7" />
<path d="M145.6 551.3 L137.07 548.32 L143.2 542.59 Z" fill="#22bdea"/>
<line x1="150.8" y1="444.5" x2="178.08" y2="478.07" stroke="#22bdea" stroke-width="2.7" />
<path d="M182.5 483.5 L174.19 479.94 L180.71 474.64 Z" fill="#22bdea"/>
<line x1="205.3" y1="446" x2="214.07" y2="499.79" stroke="#22bdea" stroke-width="2.7" />
<path d="M215.2 506.7 L209.77 499.48 L218.06 498.13 Z" fill="#22bdea"/>
<line x1="252.8" y1="462.7" x2="243.24" y2="499.92" stroke="#22bdea" stroke-width="2.7" />
<path d="M241.5 506.7 L239.42 497.91 L247.56 500 Z" fill="#22bdea"/>
<line x1="329.9" y1="405.2" x2="313.03" y2="422.93" stroke="#22bdea" stroke-width="2.7" />
<path d="M308.2 428 L310.67 419.31 L316.76 425.1 Z" fill="#22bdea"/>
<rect x="89.5" y="492.5" width="30.5" height="20" fill="#fff" stroke="none" stroke-width="1"/>
<text x="90.5" y="505.3" font-size="12.5" font-family="Liberation Sans" fill="#33386a" textLength="3.4" lengthAdjust="spacingAndGlyphs">(</text>
<text x="94.6" y="505" font-size="11.8" font-family="Liberation Sans" fill="#4a1828" textLength="9.8" lengthAdjust="spacingAndGlyphs" stroke="#4a1828" stroke-width="0.25">Cl</text>
<text x="104.6" y="507.3" font-size="8.8" font-family="Liberation Sans" fill="#285e55" textLength="9" lengthAdjust="spacingAndGlyphs">2p</text>
<text x="114.3" y="505.3" font-size="12.5" font-family="Liberation Sans" fill="#33386a" textLength="3.6" lengthAdjust="spacingAndGlyphs">)</text>
<rect x="135.5" y="422.5" width="27" height="17" fill="#fff" stroke="none" stroke-width="1"/>
<text x="138.4" y="434.3" font-size="12.5" font-family="Liberation Serif" fill="#4a3a40" textLength="3.6" lengthAdjust="spacingAndGlyphs">(</text>
<text x="142.3" y="435" font-size="11.8" font-family="Liberation Serif" fill="#1f2a70" textLength="8.2" lengthAdjust="spacingAndGlyphs" font-weight="bold">C</text>
<text x="150.6" y="434.8" font-size="6.6" font-family="Liberation Serif" fill="#1f2a70" textLength="5.6" lengthAdjust="spacingAndGlyphs" font-weight="bold">1s</text>
<text x="156.6" y="434.3" font-size="12.5" font-family="Liberation Serif" fill="#4a3a40" textLength="3.6" lengthAdjust="spacingAndGlyphs">)</text>
<rect x="181.5" y="418.5" width="41" height="17" fill="#fff" stroke="none" stroke-width="1"/>
<text x="183.5" y="431" font-size="12.5" font-family="Liberation Serif" fill="#4a3a40" textLength="3.6" lengthAdjust="spacingAndGlyphs">(</text>
<text x="187.8" y="431" font-size="11.5" font-family="Liberation Serif" fill="#1f2a70" textLength="13.2" lengthAdjust="spacingAndGlyphs" font-weight="bold">Pd</text>
<text x="201.3" y="430.8" font-size="6.6" font-family="Liberation Serif" fill="#1f2a70" textLength="15.1" lengthAdjust="spacingAndGlyphs" font-weight="bold">3d5/2</text>
<text x="216.6" y="431" font-size="12.5" font-family="Liberation Serif" fill="#7a3030" textLength="3.6" lengthAdjust="spacingAndGlyphs">)</text>
<rect x="244" y="441.5" width="25" height="16.5" fill="#fff" stroke="none" stroke-width="1"/>
<text x="246.2" y="453.5" font-size="12.5" font-family="Liberation Serif" fill="#4a3a40" textLength="3.5" lengthAdjust="spacingAndGlyphs">(</text>
<text x="250.2" y="453.8" font-size="11.5" font-family="Liberation Serif" fill="#1f2a70" textLength="8.4" lengthAdjust="spacingAndGlyphs" font-weight="bold">N</text>
<text x="258.5" y="453.6" font-size="6.6" font-family="Liberation Serif" fill="#1f2a70" textLength="5.3" lengthAdjust="spacingAndGlyphs" font-weight="bold">1s</text>
<text x="263.6" y="453.5" font-size="12.5" font-family="Liberation Serif" fill="#4a3a40" textLength="3.5" lengthAdjust="spacingAndGlyphs">)</text>
<rect x="327.5" y="385" width="26" height="17" fill="#fff" stroke="none" stroke-width="1"/>
<text x="329.4" y="397.6" font-size="12.5" font-family="Liberation Serif" fill="#4a3a40" textLength="3.5" lengthAdjust="spacingAndGlyphs">(</text>
<text x="333.3" y="397.9" font-size="11.5" font-family="Liberation Serif" fill="#1f2a70" textLength="8.8" lengthAdjust="spacingAndGlyphs" font-weight="bold">O</text>
<text x="342.1" y="397.7" font-size="6.6" font-family="Liberation Serif" fill="#1f2a70" textLength="5.5" lengthAdjust="spacingAndGlyphs" font-weight="bold">1s</text>
<text x="348.3" y="397.6" font-size="12.5" font-family="Liberation Serif" fill="#4a3a40" textLength="3.5" lengthAdjust="spacingAndGlyphs">)</text>
</svg>
</body></html>
